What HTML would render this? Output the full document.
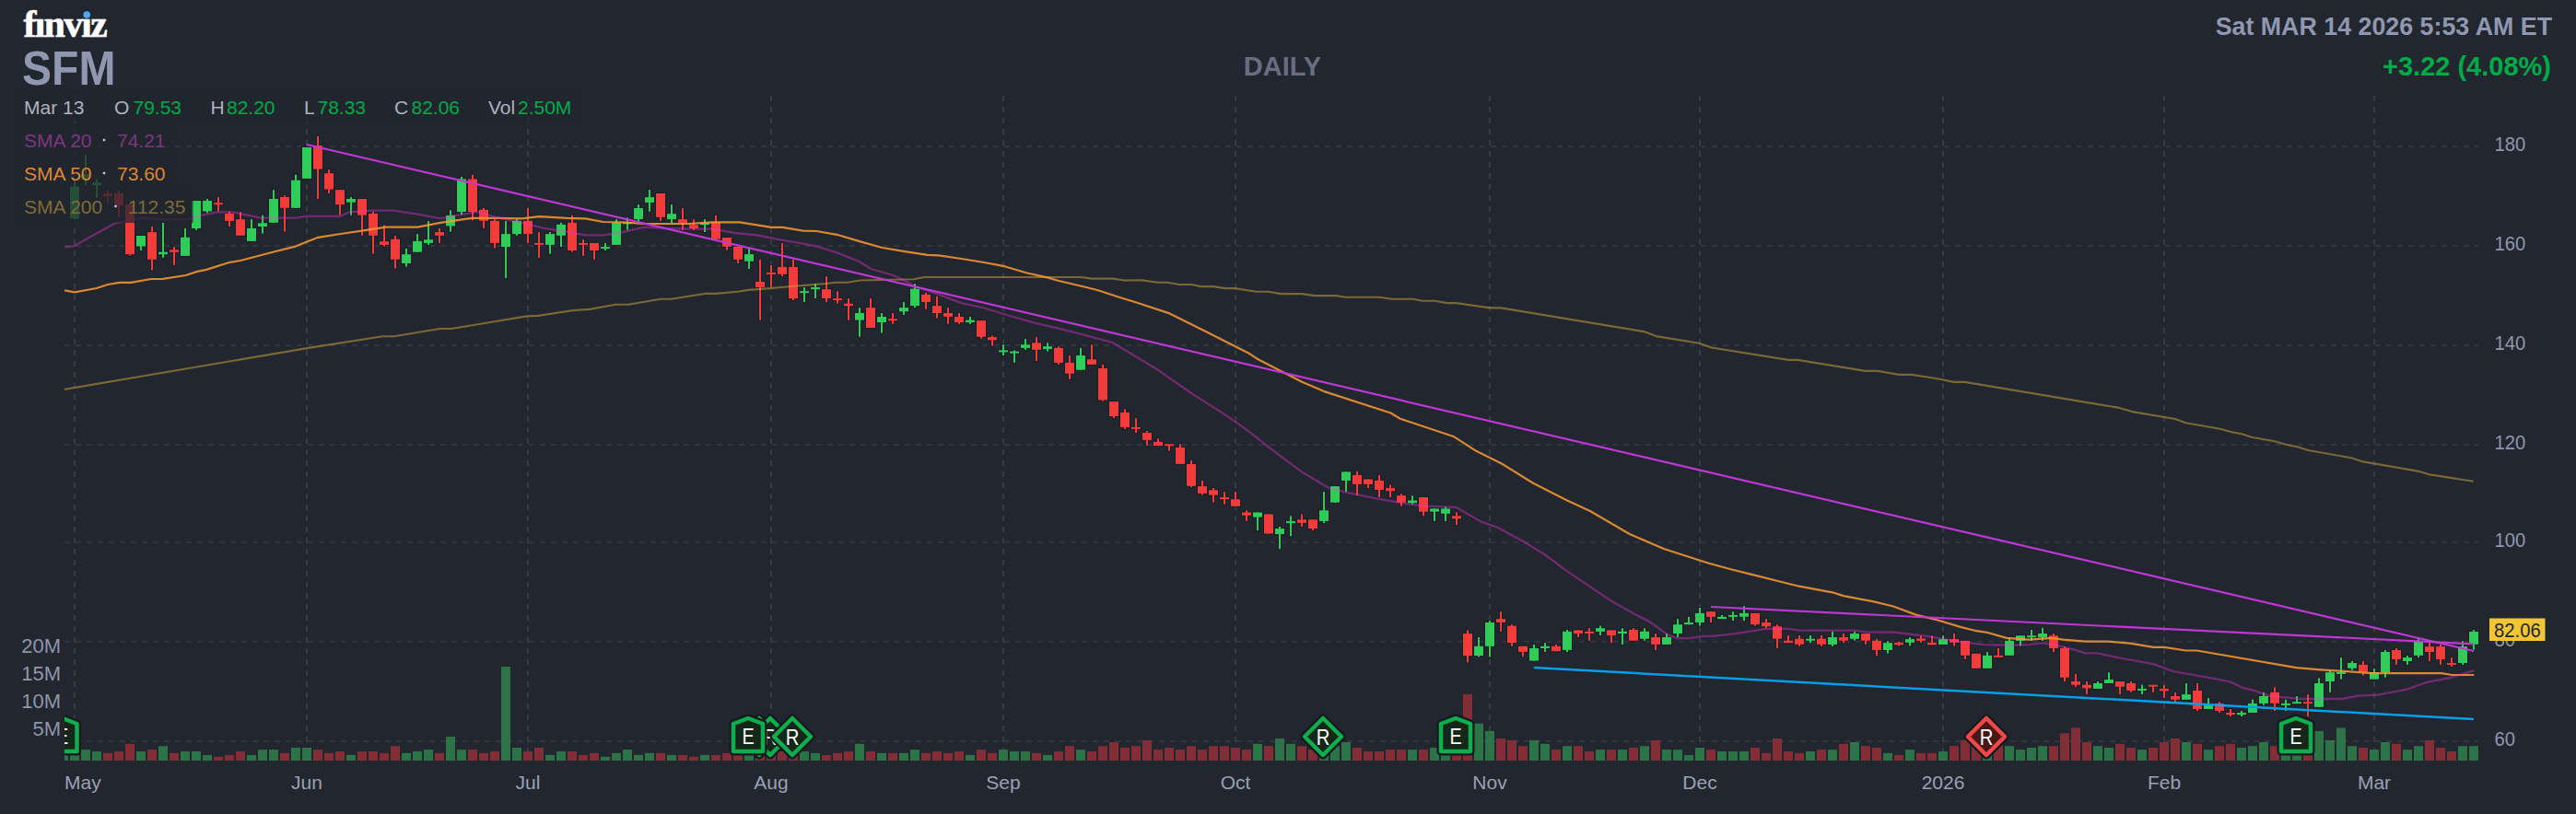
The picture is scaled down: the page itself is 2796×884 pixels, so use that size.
<!DOCTYPE html><html><head><meta charset="utf-8"><style>html,body{margin:0;padding:0;background:#22262f;width:2796px;height:884px;overflow:hidden;position:relative}</style></head><body><svg width="2796" height="884" viewBox="0 0 2796 884" style="position:absolute;left:0;top:0">
<rect width="2796" height="884" fill="#22262f"/>
<defs><clipPath id="cp"><rect x="70" y="100" width="2620" height="730"/></clipPath></defs>
<line x1="81" y1="104" x2="81" y2="826" stroke="#363b46" stroke-width="2" stroke-dasharray="6 6"/>
<line x1="333" y1="104" x2="333" y2="826" stroke="#363b46" stroke-width="2" stroke-dasharray="6 6"/>
<line x1="573" y1="104" x2="573" y2="826" stroke="#363b46" stroke-width="2" stroke-dasharray="6 6"/>
<line x1="837" y1="104" x2="837" y2="826" stroke="#363b46" stroke-width="2" stroke-dasharray="6 6"/>
<line x1="1089" y1="104" x2="1089" y2="826" stroke="#363b46" stroke-width="2" stroke-dasharray="6 6"/>
<line x1="1341" y1="104" x2="1341" y2="826" stroke="#363b46" stroke-width="2" stroke-dasharray="6 6"/>
<line x1="1617" y1="104" x2="1617" y2="826" stroke="#363b46" stroke-width="2" stroke-dasharray="6 6"/>
<line x1="1845" y1="104" x2="1845" y2="826" stroke="#363b46" stroke-width="2" stroke-dasharray="6 6"/>
<line x1="2109" y1="104" x2="2109" y2="826" stroke="#363b46" stroke-width="2" stroke-dasharray="6 6"/>
<line x1="2349" y1="104" x2="2349" y2="826" stroke="#363b46" stroke-width="2" stroke-dasharray="6 6"/>
<line x1="2577" y1="104" x2="2577" y2="826" stroke="#363b46" stroke-width="2" stroke-dasharray="6 6"/>
<line x1="70" y1="159.0" x2="2690" y2="159.0" stroke="#30353f" stroke-width="2" stroke-dasharray="6 6"/>
<line x1="70" y1="267.0" x2="2690" y2="267.0" stroke="#30353f" stroke-width="2" stroke-dasharray="6 6"/>
<line x1="70" y1="375.0" x2="2690" y2="375.0" stroke="#30353f" stroke-width="2" stroke-dasharray="6 6"/>
<line x1="70" y1="483.0" x2="2690" y2="483.0" stroke="#30353f" stroke-width="2" stroke-dasharray="6 6"/>
<line x1="70" y1="588.8" x2="2690" y2="588.8" stroke="#30353f" stroke-width="2" stroke-dasharray="6 6"/>
<line x1="70" y1="696.8" x2="2690" y2="696.8" stroke="#30353f" stroke-width="2" stroke-dasharray="6 6"/>
<line x1="70" y1="805.0" x2="2690" y2="805.0" stroke="#30353f" stroke-width="2" stroke-dasharray="6 6"/>
<g clip-path="url(#cp)">
<g opacity="0.9">
<rect x="64" y="819.5" width="10" height="6.5" fill="#2e7d4b"/>
<rect x="76" y="819.5" width="10" height="6.5" fill="#2e7d4b"/>
<rect x="88" y="814.1" width="10" height="11.9" fill="#2e7d4b"/>
<rect x="100" y="816.0" width="10" height="10.0" fill="#2e7d4b"/>
<rect x="112" y="817.8" width="10" height="8.2" fill="#8e2f37"/>
<rect x="124" y="816.0" width="10" height="10.0" fill="#8e2f37"/>
<rect x="136" y="807.8" width="10" height="18.2" fill="#8e2f37"/>
<rect x="148" y="816.0" width="10" height="10.0" fill="#2e7d4b"/>
<rect x="160" y="814.1" width="10" height="11.9" fill="#8e2f37"/>
<rect x="172" y="810.2" width="10" height="15.8" fill="#2e7d4b"/>
<rect x="184" y="817.8" width="10" height="8.2" fill="#8e2f37"/>
<rect x="196" y="816.0" width="10" height="10.0" fill="#2e7d4b"/>
<rect x="208" y="816.0" width="10" height="10.0" fill="#2e7d4b"/>
<rect x="220" y="819.9" width="10" height="6.1" fill="#2e7d4b"/>
<rect x="232" y="821.8" width="10" height="4.2" fill="#8e2f37"/>
<rect x="244" y="819.9" width="10" height="6.1" fill="#8e2f37"/>
<rect x="256" y="816.0" width="10" height="10.0" fill="#8e2f37"/>
<rect x="268" y="819.9" width="10" height="6.1" fill="#2e7d4b"/>
<rect x="280" y="814.1" width="10" height="11.9" fill="#2e7d4b"/>
<rect x="292" y="814.1" width="10" height="11.9" fill="#2e7d4b"/>
<rect x="304" y="817.8" width="10" height="8.2" fill="#8e2f37"/>
<rect x="316" y="812.0" width="10" height="14.0" fill="#2e7d4b"/>
<rect x="328" y="812.0" width="10" height="14.0" fill="#2e7d4b"/>
<rect x="340" y="814.1" width="10" height="11.9" fill="#8e2f37"/>
<rect x="352" y="817.8" width="10" height="8.2" fill="#8e2f37"/>
<rect x="364" y="816.0" width="10" height="10.0" fill="#8e2f37"/>
<rect x="376" y="819.9" width="10" height="6.1" fill="#2e7d4b"/>
<rect x="388" y="816.0" width="10" height="10.0" fill="#8e2f37"/>
<rect x="400" y="816.0" width="10" height="10.0" fill="#8e2f37"/>
<rect x="412" y="817.8" width="10" height="8.2" fill="#8e2f37"/>
<rect x="424" y="810.2" width="10" height="15.8" fill="#8e2f37"/>
<rect x="436" y="817.8" width="10" height="8.2" fill="#2e7d4b"/>
<rect x="448" y="816.0" width="10" height="10.0" fill="#2e7d4b"/>
<rect x="460" y="814.1" width="10" height="11.9" fill="#2e7d4b"/>
<rect x="472" y="817.8" width="10" height="8.2" fill="#8e2f37"/>
<rect x="484" y="800.1" width="10" height="25.9" fill="#2e7d4b"/>
<rect x="496" y="814.1" width="10" height="11.9" fill="#2e7d4b"/>
<rect x="508" y="814.1" width="10" height="11.9" fill="#8e2f37"/>
<rect x="520" y="817.8" width="10" height="8.2" fill="#8e2f37"/>
<rect x="532" y="816.0" width="10" height="10.0" fill="#8e2f37"/>
<rect x="544" y="724.0" width="10" height="102.0" fill="#2e7d4b"/>
<rect x="556" y="812.0" width="10" height="14.0" fill="#2e7d4b"/>
<rect x="568" y="816.0" width="10" height="10.0" fill="#8e2f37"/>
<rect x="580" y="812.0" width="10" height="14.0" fill="#8e2f37"/>
<rect x="592" y="819.9" width="10" height="6.1" fill="#2e7d4b"/>
<rect x="604" y="816.0" width="10" height="10.0" fill="#2e7d4b"/>
<rect x="616" y="816.0" width="10" height="10.0" fill="#8e2f37"/>
<rect x="628" y="819.9" width="10" height="6.1" fill="#8e2f37"/>
<rect x="640" y="817.8" width="10" height="8.2" fill="#8e2f37"/>
<rect x="652" y="821.8" width="10" height="4.2" fill="#2e7d4b"/>
<rect x="664" y="817.8" width="10" height="8.2" fill="#2e7d4b"/>
<rect x="676" y="814.1" width="10" height="11.9" fill="#2e7d4b"/>
<rect x="688" y="819.9" width="10" height="6.1" fill="#2e7d4b"/>
<rect x="700" y="817.8" width="10" height="8.2" fill="#2e7d4b"/>
<rect x="712" y="817.8" width="10" height="8.2" fill="#8e2f37"/>
<rect x="724" y="819.9" width="10" height="6.1" fill="#2e7d4b"/>
<rect x="736" y="819.9" width="10" height="6.1" fill="#8e2f37"/>
<rect x="748" y="821.8" width="10" height="4.2" fill="#8e2f37"/>
<rect x="760" y="819.9" width="10" height="6.1" fill="#2e7d4b"/>
<rect x="772" y="819.9" width="10" height="6.1" fill="#8e2f37"/>
<rect x="784" y="817.8" width="10" height="8.2" fill="#8e2f37"/>
<rect x="796" y="819.9" width="10" height="6.1" fill="#8e2f37"/>
<rect x="808" y="819.9" width="10" height="6.1" fill="#2e7d4b"/>
<rect x="820" y="817.8" width="10" height="8.2" fill="#8e2f37"/>
<rect x="832" y="816.0" width="10" height="10.0" fill="#8e2f37"/>
<rect x="844" y="816.0" width="10" height="10.0" fill="#8e2f37"/>
<rect x="856" y="817.2" width="10" height="8.8" fill="#8e2f37"/>
<rect x="868" y="816.0" width="10" height="10.0" fill="#2e7d4b"/>
<rect x="880" y="817.8" width="10" height="8.2" fill="#2e7d4b"/>
<rect x="892" y="819.9" width="10" height="6.1" fill="#8e2f37"/>
<rect x="904" y="817.8" width="10" height="8.2" fill="#8e2f37"/>
<rect x="916" y="816.0" width="10" height="10.0" fill="#8e2f37"/>
<rect x="928" y="807.8" width="10" height="18.2" fill="#2e7d4b"/>
<rect x="940" y="816.0" width="10" height="10.0" fill="#8e2f37"/>
<rect x="952" y="817.8" width="10" height="8.2" fill="#2e7d4b"/>
<rect x="964" y="817.8" width="10" height="8.2" fill="#8e2f37"/>
<rect x="976" y="817.8" width="10" height="8.2" fill="#2e7d4b"/>
<rect x="988" y="814.1" width="10" height="11.9" fill="#2e7d4b"/>
<rect x="1000" y="817.8" width="10" height="8.2" fill="#8e2f37"/>
<rect x="1012" y="816.0" width="10" height="10.0" fill="#8e2f37"/>
<rect x="1024" y="817.8" width="10" height="8.2" fill="#8e2f37"/>
<rect x="1036" y="816.0" width="10" height="10.0" fill="#8e2f37"/>
<rect x="1048" y="819.9" width="10" height="6.1" fill="#2e7d4b"/>
<rect x="1060" y="814.1" width="10" height="11.9" fill="#8e2f37"/>
<rect x="1072" y="817.8" width="10" height="8.2" fill="#8e2f37"/>
<rect x="1084" y="814.1" width="10" height="11.9" fill="#2e7d4b"/>
<rect x="1096" y="816.0" width="10" height="10.0" fill="#2e7d4b"/>
<rect x="1108" y="816.0" width="10" height="10.0" fill="#2e7d4b"/>
<rect x="1120" y="817.8" width="10" height="8.2" fill="#8e2f37"/>
<rect x="1132" y="819.9" width="10" height="6.1" fill="#2e7d4b"/>
<rect x="1144" y="816.0" width="10" height="10.0" fill="#8e2f37"/>
<rect x="1156" y="810.2" width="10" height="15.8" fill="#8e2f37"/>
<rect x="1168" y="814.1" width="10" height="11.9" fill="#2e7d4b"/>
<rect x="1180" y="816.0" width="10" height="10.0" fill="#8e2f37"/>
<rect x="1192" y="810.2" width="10" height="15.8" fill="#8e2f37"/>
<rect x="1204" y="806.0" width="10" height="20.0" fill="#8e2f37"/>
<rect x="1216" y="812.0" width="10" height="14.0" fill="#8e2f37"/>
<rect x="1228" y="810.2" width="10" height="15.8" fill="#8e2f37"/>
<rect x="1240" y="803.9" width="10" height="22.1" fill="#8e2f37"/>
<rect x="1252" y="814.1" width="10" height="11.9" fill="#8e2f37"/>
<rect x="1264" y="812.0" width="10" height="14.0" fill="#8e2f37"/>
<rect x="1276" y="814.1" width="10" height="11.9" fill="#8e2f37"/>
<rect x="1288" y="810.2" width="10" height="15.8" fill="#8e2f37"/>
<rect x="1300" y="814.1" width="10" height="11.9" fill="#8e2f37"/>
<rect x="1312" y="810.2" width="10" height="15.8" fill="#8e2f37"/>
<rect x="1324" y="810.2" width="10" height="15.8" fill="#8e2f37"/>
<rect x="1336" y="812.0" width="10" height="14.0" fill="#8e2f37"/>
<rect x="1348" y="814.1" width="10" height="11.9" fill="#8e2f37"/>
<rect x="1360" y="807.8" width="10" height="18.2" fill="#2e7d4b"/>
<rect x="1372" y="810.2" width="10" height="15.8" fill="#8e2f37"/>
<rect x="1384" y="802.0" width="10" height="24.0" fill="#2e7d4b"/>
<rect x="1396" y="807.8" width="10" height="18.2" fill="#2e7d4b"/>
<rect x="1408" y="810.2" width="10" height="15.8" fill="#8e2f37"/>
<rect x="1420" y="814.1" width="10" height="11.9" fill="#8e2f37"/>
<rect x="1432" y="810.2" width="10" height="15.8" fill="#2e7d4b"/>
<rect x="1444" y="810.2" width="10" height="15.8" fill="#2e7d4b"/>
<rect x="1456" y="806.0" width="10" height="20.0" fill="#2e7d4b"/>
<rect x="1468" y="812.0" width="10" height="14.0" fill="#8e2f37"/>
<rect x="1480" y="816.0" width="10" height="10.0" fill="#8e2f37"/>
<rect x="1492" y="816.0" width="10" height="10.0" fill="#8e2f37"/>
<rect x="1504" y="814.1" width="10" height="11.9" fill="#8e2f37"/>
<rect x="1516" y="814.1" width="10" height="11.9" fill="#8e2f37"/>
<rect x="1528" y="814.1" width="10" height="11.9" fill="#2e7d4b"/>
<rect x="1540" y="814.1" width="10" height="11.9" fill="#8e2f37"/>
<rect x="1552" y="812.0" width="10" height="14.0" fill="#2e7d4b"/>
<rect x="1564" y="814.8" width="10" height="11.2" fill="#2e7d4b"/>
<rect x="1576" y="816.0" width="10" height="10.0" fill="#8e2f37"/>
<rect x="1588" y="753.8" width="10" height="72.2" fill="#8e2f37"/>
<rect x="1600" y="785.7" width="10" height="40.3" fill="#2e7d4b"/>
<rect x="1612" y="793.9" width="10" height="32.1" fill="#2e7d4b"/>
<rect x="1624" y="802.0" width="10" height="24.0" fill="#8e2f37"/>
<rect x="1636" y="803.9" width="10" height="22.1" fill="#8e2f37"/>
<rect x="1648" y="810.2" width="10" height="15.8" fill="#8e2f37"/>
<rect x="1660" y="803.9" width="10" height="22.1" fill="#2e7d4b"/>
<rect x="1672" y="807.8" width="10" height="18.2" fill="#2e7d4b"/>
<rect x="1684" y="814.1" width="10" height="11.9" fill="#8e2f37"/>
<rect x="1696" y="810.2" width="10" height="15.8" fill="#2e7d4b"/>
<rect x="1708" y="810.2" width="10" height="15.8" fill="#8e2f37"/>
<rect x="1720" y="816.0" width="10" height="10.0" fill="#8e2f37"/>
<rect x="1732" y="814.1" width="10" height="11.9" fill="#2e7d4b"/>
<rect x="1744" y="814.1" width="10" height="11.9" fill="#8e2f37"/>
<rect x="1756" y="814.1" width="10" height="11.9" fill="#2e7d4b"/>
<rect x="1768" y="812.0" width="10" height="14.0" fill="#8e2f37"/>
<rect x="1780" y="810.2" width="10" height="15.8" fill="#2e7d4b"/>
<rect x="1792" y="803.9" width="10" height="22.1" fill="#8e2f37"/>
<rect x="1804" y="814.1" width="10" height="11.9" fill="#2e7d4b"/>
<rect x="1816" y="814.1" width="10" height="11.9" fill="#2e7d4b"/>
<rect x="1828" y="819.9" width="10" height="6.1" fill="#2e7d4b"/>
<rect x="1840" y="812.0" width="10" height="14.0" fill="#2e7d4b"/>
<rect x="1852" y="814.1" width="10" height="11.9" fill="#8e2f37"/>
<rect x="1864" y="816.0" width="10" height="10.0" fill="#2e7d4b"/>
<rect x="1876" y="816.0" width="10" height="10.0" fill="#2e7d4b"/>
<rect x="1888" y="816.0" width="10" height="10.0" fill="#2e7d4b"/>
<rect x="1900" y="812.0" width="10" height="14.0" fill="#8e2f37"/>
<rect x="1912" y="817.8" width="10" height="8.2" fill="#8e2f37"/>
<rect x="1924" y="802.0" width="10" height="24.0" fill="#8e2f37"/>
<rect x="1936" y="816.0" width="10" height="10.0" fill="#8e2f37"/>
<rect x="1948" y="817.8" width="10" height="8.2" fill="#8e2f37"/>
<rect x="1960" y="816.0" width="10" height="10.0" fill="#2e7d4b"/>
<rect x="1972" y="814.1" width="10" height="11.9" fill="#8e2f37"/>
<rect x="1984" y="814.1" width="10" height="11.9" fill="#2e7d4b"/>
<rect x="1996" y="807.8" width="10" height="18.2" fill="#8e2f37"/>
<rect x="2008" y="806.0" width="10" height="20.0" fill="#2e7d4b"/>
<rect x="2020" y="810.2" width="10" height="15.8" fill="#8e2f37"/>
<rect x="2032" y="812.0" width="10" height="14.0" fill="#8e2f37"/>
<rect x="2044" y="817.8" width="10" height="8.2" fill="#2e7d4b"/>
<rect x="2056" y="819.9" width="10" height="6.1" fill="#8e2f37"/>
<rect x="2068" y="814.1" width="10" height="11.9" fill="#2e7d4b"/>
<rect x="2080" y="817.8" width="10" height="8.2" fill="#8e2f37"/>
<rect x="2092" y="817.8" width="10" height="8.2" fill="#8e2f37"/>
<rect x="2104" y="816.0" width="10" height="10.0" fill="#2e7d4b"/>
<rect x="2116" y="810.2" width="10" height="15.8" fill="#8e2f37"/>
<rect x="2128" y="803.9" width="10" height="22.1" fill="#8e2f37"/>
<rect x="2140" y="810.2" width="10" height="15.8" fill="#8e2f37"/>
<rect x="2152" y="810.2" width="10" height="15.8" fill="#2e7d4b"/>
<rect x="2164" y="810.2" width="10" height="15.8" fill="#8e2f37"/>
<rect x="2176" y="810.2" width="10" height="15.8" fill="#2e7d4b"/>
<rect x="2188" y="814.1" width="10" height="11.9" fill="#2e7d4b"/>
<rect x="2200" y="812.0" width="10" height="14.0" fill="#2e7d4b"/>
<rect x="2212" y="810.2" width="10" height="15.8" fill="#2e7d4b"/>
<rect x="2224" y="810.2" width="10" height="15.8" fill="#8e2f37"/>
<rect x="2236" y="796.2" width="10" height="29.8" fill="#8e2f37"/>
<rect x="2248" y="790.4" width="10" height="35.6" fill="#8e2f37"/>
<rect x="2260" y="806.0" width="10" height="20.0" fill="#8e2f37"/>
<rect x="2272" y="810.2" width="10" height="15.8" fill="#2e7d4b"/>
<rect x="2284" y="812.0" width="10" height="14.0" fill="#2e7d4b"/>
<rect x="2296" y="807.8" width="10" height="18.2" fill="#8e2f37"/>
<rect x="2308" y="812.0" width="10" height="14.0" fill="#8e2f37"/>
<rect x="2320" y="814.1" width="10" height="11.9" fill="#2e7d4b"/>
<rect x="2332" y="812.0" width="10" height="14.0" fill="#8e2f37"/>
<rect x="2344" y="806.0" width="10" height="20.0" fill="#8e2f37"/>
<rect x="2356" y="802.0" width="10" height="24.0" fill="#8e2f37"/>
<rect x="2368" y="806.0" width="10" height="20.0" fill="#2e7d4b"/>
<rect x="2380" y="807.8" width="10" height="18.2" fill="#8e2f37"/>
<rect x="2392" y="814.1" width="10" height="11.9" fill="#2e7d4b"/>
<rect x="2404" y="810.2" width="10" height="15.8" fill="#8e2f37"/>
<rect x="2416" y="807.8" width="10" height="18.2" fill="#8e2f37"/>
<rect x="2428" y="812.0" width="10" height="14.0" fill="#2e7d4b"/>
<rect x="2440" y="810.2" width="10" height="15.8" fill="#2e7d4b"/>
<rect x="2452" y="806.0" width="10" height="20.0" fill="#2e7d4b"/>
<rect x="2464" y="810.2" width="10" height="15.8" fill="#8e2f37"/>
<rect x="2476" y="812.5" width="10" height="13.5" fill="#2e7d4b"/>
<rect x="2488" y="812.5" width="10" height="13.5" fill="#2e7d4b"/>
<rect x="2500" y="812.5" width="10" height="13.5" fill="#8e2f37"/>
<rect x="2512" y="793.9" width="10" height="32.1" fill="#2e7d4b"/>
<rect x="2524" y="803.9" width="10" height="22.1" fill="#2e7d4b"/>
<rect x="2536" y="790.4" width="10" height="35.6" fill="#2e7d4b"/>
<rect x="2548" y="810.2" width="10" height="15.8" fill="#2e7d4b"/>
<rect x="2560" y="812.0" width="10" height="14.0" fill="#8e2f37"/>
<rect x="2572" y="814.1" width="10" height="11.9" fill="#2e7d4b"/>
<rect x="2584" y="806.0" width="10" height="20.0" fill="#2e7d4b"/>
<rect x="2596" y="807.8" width="10" height="18.2" fill="#8e2f37"/>
<rect x="2608" y="814.1" width="10" height="11.9" fill="#2e7d4b"/>
<rect x="2620" y="810.2" width="10" height="15.8" fill="#2e7d4b"/>
<rect x="2632" y="803.9" width="10" height="22.1" fill="#8e2f37"/>
<rect x="2644" y="812.0" width="10" height="14.0" fill="#8e2f37"/>
<rect x="2656" y="816.0" width="10" height="10.0" fill="#8e2f37"/>
<rect x="2668" y="810.2" width="10" height="15.8" fill="#2e7d4b"/>
<rect x="2680" y="810.2" width="10" height="15.8" fill="#2e7d4b"/>
</g>
<g fill="none" stroke="#1a1d24" stroke-width="2" stroke-opacity="0.8">
<rect x="80" y="195.1" width="2" height="43.0"/><rect x="76" y="202.5" width="10" height="35.1"/>
<rect x="92" y="168.1" width="2" height="33.2"/><rect x="88" y="189.0" width="10" height="6.1"/>
<rect x="104" y="194.4" width="2" height="20.4"/><rect x="100" y="198.3" width="10" height="2.9"/>
<rect x="116" y="206.7" width="2" height="13.0"/><rect x="112" y="209.9" width="10" height="3.2"/>
<rect x="128" y="206.7" width="2" height="29.0"/><rect x="124" y="209.9" width="10" height="13.5"/>
<rect x="140" y="222.1" width="2" height="55.3"/><rect x="136" y="222.1" width="10" height="54.1"/>
<rect x="152" y="256.0" width="2" height="16.0"/><rect x="148" y="256.0" width="10" height="11.5"/>
<rect x="164" y="246.0" width="2" height="47.4"/><rect x="160" y="252.1" width="10" height="29.7"/>
<rect x="176" y="241.8" width="2" height="38.1"/><rect x="172" y="273.7" width="10" height="2.5"/>
<rect x="188" y="268.1" width="2" height="19.7"/><rect x="184" y="271.3" width="10" height="2.5"/>
<rect x="200" y="247.9" width="2" height="30.0"/><rect x="196" y="257.8" width="10" height="20.1"/>
<rect x="212" y="218.0" width="2" height="31.9"/><rect x="208" y="218.0" width="10" height="30.0"/>
<rect x="224" y="216.0" width="2" height="15.2"/><rect x="220" y="218.0" width="10" height="11.5"/>
<rect x="236" y="214.0" width="2" height="15.5"/><rect x="232" y="220.2" width="10" height="2.0"/>
<rect x="248" y="229.5" width="2" height="16.5"/><rect x="244" y="232.0" width="10" height="7.9"/>
<rect x="260" y="230.0" width="2" height="25.8"/><rect x="256" y="238.1" width="10" height="17.7"/>
<rect x="272" y="238.1" width="2" height="23.8"/><rect x="268" y="247.9" width="10" height="14.0"/>
<rect x="284" y="233.7" width="2" height="19.9"/><rect x="280" y="242.3" width="10" height="3.7"/>
<rect x="296" y="206.2" width="2" height="35.6"/><rect x="292" y="216.0" width="10" height="25.8"/>
<rect x="308" y="212.3" width="2" height="39.3"/><rect x="304" y="214.0" width="10" height="11.8"/>
<rect x="320" y="189.7" width="2" height="36.1"/><rect x="316" y="195.8" width="10" height="30.0"/>
<rect x="332" y="160.0" width="2" height="33.9"/><rect x="328" y="160.0" width="10" height="33.9"/>
<rect x="344" y="147.9" width="2" height="68.1"/><rect x="340" y="158.0" width="10" height="25.6"/>
<rect x="356" y="184.1" width="2" height="25.8"/><rect x="352" y="188.2" width="10" height="17.4"/>
<rect x="368" y="206.2" width="2" height="27.5"/><rect x="364" y="206.2" width="10" height="16.0"/>
<rect x="380" y="214.0" width="2" height="19.7"/><rect x="376" y="216.0" width="10" height="3.7"/>
<rect x="392" y="216.0" width="2" height="39.8"/><rect x="388" y="216.0" width="10" height="17.7"/>
<rect x="404" y="230.0" width="2" height="45.7"/><rect x="400" y="232.0" width="10" height="23.8"/>
<rect x="416" y="244.3" width="2" height="23.3"/><rect x="412" y="262.2" width="10" height="3.7"/>
<rect x="428" y="256.0" width="2" height="35.6"/><rect x="424" y="259.7" width="10" height="22.1"/>
<rect x="440" y="270.0" width="2" height="19.7"/><rect x="436" y="276.2" width="10" height="9.8"/>
<rect x="452" y="254.1" width="2" height="19.7"/><rect x="448" y="261.9" width="10" height="11.8"/>
<rect x="464" y="240.1" width="2" height="25.8"/><rect x="460" y="260.2" width="10" height="3.7"/>
<rect x="476" y="247.9" width="2" height="16.0"/><rect x="472" y="252.1" width="10" height="3.7"/>
<rect x="488" y="228.3" width="2" height="23.3"/><rect x="484" y="233.9" width="10" height="11.5"/>
<rect x="500" y="191.9" width="2" height="41.3"/><rect x="496" y="194.4" width="10" height="35.6"/>
<rect x="512" y="189.7" width="2" height="49.6"/><rect x="508" y="194.4" width="10" height="35.6"/>
<rect x="524" y="225.8" width="2" height="22.1"/><rect x="520" y="227.8" width="10" height="12.0"/>
<rect x="536" y="238.1" width="2" height="31.4"/><rect x="532" y="239.8" width="10" height="24.1"/>
<rect x="548" y="240.1" width="2" height="61.9"/><rect x="544" y="254.1" width="10" height="14.0"/>
<rect x="560" y="238.1" width="2" height="17.7"/><rect x="556" y="239.8" width="10" height="14.3"/>
<rect x="572" y="225.8" width="2" height="38.1"/><rect x="568" y="239.8" width="10" height="14.3"/>
<rect x="584" y="252.1" width="2" height="27.8"/><rect x="580" y="263.9" width="10" height="2.0"/>
<rect x="596" y="252.1" width="2" height="23.6"/><rect x="592" y="254.1" width="10" height="11.8"/>
<rect x="608" y="241.8" width="2" height="26.3"/><rect x="604" y="243.8" width="10" height="12.0"/>
<rect x="620" y="233.7" width="2" height="40.0"/><rect x="616" y="241.8" width="10" height="30.2"/>
<rect x="632" y="260.2" width="2" height="17.7"/><rect x="628" y="263.9" width="10" height="2.0"/>
<rect x="644" y="263.9" width="2" height="17.9"/><rect x="640" y="263.9" width="10" height="8.1"/>
<rect x="656" y="263.9" width="2" height="8.1"/><rect x="652" y="268.1" width="10" height="2.0"/>
<rect x="668" y="238.1" width="2" height="27.8"/><rect x="664" y="241.8" width="10" height="24.1"/>
<rect x="680" y="236.3" width="2" height="13.5"/><rect x="676" y="241.3" width="10" height="2.0"/>
<rect x="692" y="222.1" width="2" height="19.2"/><rect x="688" y="226.0" width="10" height="12.0"/>
<rect x="704" y="206.1" width="2" height="23.6"/><rect x="700" y="214.2" width="10" height="5.7"/>
<rect x="716" y="210.0" width="2" height="30.0"/><rect x="712" y="210.0" width="10" height="25.8"/>
<rect x="728" y="222.1" width="2" height="19.9"/><rect x="724" y="232.2" width="10" height="5.9"/>
<rect x="740" y="226.0" width="2" height="23.8"/><rect x="736" y="238.1" width="10" height="3.9"/>
<rect x="752" y="238.1" width="2" height="11.8"/><rect x="748" y="244.2" width="10" height="3.9"/>
<rect x="764" y="238.1" width="2" height="13.8"/><rect x="760" y="242.0" width="10" height="2.2"/>
<rect x="776" y="233.9" width="2" height="25.8"/><rect x="772" y="241.3" width="10" height="18.4"/>
<rect x="788" y="258.0" width="2" height="13.5"/><rect x="784" y="258.0" width="10" height="9.8"/>
<rect x="800" y="267.8" width="2" height="18.2"/><rect x="796" y="267.8" width="10" height="14.0"/>
<rect x="812" y="269.5" width="2" height="22.6"/><rect x="808" y="276.1" width="10" height="7.6"/>
<rect x="824" y="281.8" width="2" height="65.8"/><rect x="820" y="305.9" width="10" height="6.1"/>
<rect x="836" y="287.9" width="2" height="24.1"/><rect x="832" y="296.0" width="10" height="2.0"/>
<rect x="848" y="264.1" width="2" height="36.1"/><rect x="844" y="289.9" width="10" height="7.9"/>
<rect x="860" y="281.8" width="2" height="44.2"/><rect x="856" y="289.9" width="10" height="34.2"/>
<rect x="872" y="312.0" width="2" height="16.0"/><rect x="868" y="316.2" width="10" height="2.0"/>
<rect x="884" y="308.1" width="2" height="16.0"/><rect x="880" y="312.0" width="10" height="2.2"/>
<rect x="896" y="300.2" width="2" height="27.8"/><rect x="892" y="314.2" width="10" height="9.8"/>
<rect x="908" y="316.2" width="2" height="13.5"/><rect x="904" y="324.1" width="10" height="2.0"/>
<rect x="920" y="324.1" width="2" height="23.6"/><rect x="916" y="329.7" width="10" height="2.5"/>
<rect x="932" y="334.1" width="2" height="31.7"/><rect x="928" y="340.0" width="10" height="7.6"/>
<rect x="944" y="324.1" width="2" height="31.9"/><rect x="940" y="334.1" width="10" height="21.9"/>
<rect x="956" y="340.0" width="2" height="21.6"/><rect x="952" y="344.0" width="10" height="6.1"/>
<rect x="968" y="340.0" width="2" height="11.8"/><rect x="964" y="346.2" width="10" height="2.0"/>
<rect x="980" y="328.0" width="2" height="14.0"/><rect x="976" y="334.1" width="10" height="4.2"/>
<rect x="992" y="308.1" width="2" height="26.0"/><rect x="988" y="313.7" width="10" height="18.4"/>
<rect x="1004" y="317.9" width="2" height="17.9"/><rect x="1000" y="319.9" width="10" height="8.1"/>
<rect x="1016" y="321.8" width="2" height="23.8"/><rect x="1012" y="332.2" width="10" height="7.9"/>
<rect x="1028" y="334.1" width="2" height="17.7"/><rect x="1024" y="340.0" width="10" height="3.9"/>
<rect x="1040" y="340.0" width="2" height="11.8"/><rect x="1036" y="344.0" width="10" height="6.1"/>
<rect x="1052" y="344.0" width="2" height="7.9"/><rect x="1048" y="347.6" width="10" height="2.5"/>
<rect x="1064" y="348.1" width="2" height="19.7"/><rect x="1060" y="348.1" width="10" height="17.7"/>
<rect x="1076" y="364.4" width="2" height="11.1"/><rect x="1072" y="366.1" width="10" height="3.2"/>
<rect x="1088" y="374.2" width="2" height="11.8"/><rect x="1084" y="380.4" width="10" height="2.0"/>
<rect x="1100" y="380.4" width="2" height="13.5"/><rect x="1096" y="381.6" width="10" height="2.0"/>
<rect x="1112" y="368.1" width="2" height="11.8"/><rect x="1108" y="374.2" width="10" height="3.7"/>
<rect x="1124" y="366.1" width="2" height="25.8"/><rect x="1120" y="372.3" width="10" height="7.6"/>
<rect x="1136" y="372.3" width="2" height="9.3"/><rect x="1132" y="376.2" width="10" height="2.9"/>
<rect x="1148" y="376.2" width="2" height="19.7"/><rect x="1144" y="377.9" width="10" height="16.0"/>
<rect x="1160" y="386.0" width="2" height="25.8"/><rect x="1156" y="393.9" width="10" height="11.8"/>
<rect x="1172" y="377.9" width="2" height="23.8"/><rect x="1168" y="386.0" width="10" height="15.7"/>
<rect x="1184" y="374.2" width="2" height="21.6"/><rect x="1180" y="390.2" width="10" height="5.7"/>
<rect x="1196" y="395.8" width="2" height="39.8"/><rect x="1192" y="400.0" width="10" height="34.4"/>
<rect x="1208" y="436.1" width="2" height="17.9"/><rect x="1204" y="436.1" width="10" height="16.0"/>
<rect x="1220" y="444.3" width="2" height="21.6"/><rect x="1216" y="447.9" width="10" height="16.0"/>
<rect x="1232" y="454.1" width="2" height="16.0"/><rect x="1228" y="463.9" width="10" height="2.0"/>
<rect x="1244" y="468.1" width="2" height="16.0"/><rect x="1240" y="470.0" width="10" height="7.9"/>
<rect x="1256" y="476.2" width="2" height="7.9"/><rect x="1252" y="479.9" width="10" height="4.2"/>
<rect x="1268" y="482.3" width="2" height="7.4"/><rect x="1264" y="482.3" width="10" height="2.0"/>
<rect x="1280" y="482.3" width="2" height="21.6"/><rect x="1276" y="486.0" width="10" height="17.9"/>
<rect x="1292" y="500.0" width="2" height="29.0"/><rect x="1288" y="504.0" width="10" height="23.8"/>
<rect x="1304" y="521.9" width="2" height="15.7"/><rect x="1300" y="528.1" width="10" height="7.8"/>
<rect x="1316" y="530.0" width="2" height="15.7"/><rect x="1312" y="532.2" width="10" height="5.4"/>
<rect x="1328" y="534.1" width="2" height="13.5"/><rect x="1324" y="540.0" width="10" height="2.2"/>
<rect x="1340" y="534.1" width="2" height="15.7"/><rect x="1336" y="542.2" width="10" height="7.6"/>
<rect x="1352" y="554.3" width="2" height="11.6"/><rect x="1348" y="556.5" width="10" height="3.2"/>
<rect x="1364" y="556.5" width="2" height="19.5"/><rect x="1360" y="556.5" width="10" height="5.1"/>
<rect x="1376" y="558.4" width="2" height="21.1"/><rect x="1372" y="558.4" width="10" height="21.1"/>
<rect x="1388" y="571.9" width="2" height="24.3"/><rect x="1384" y="574.1" width="10" height="5.9"/>
<rect x="1400" y="560.3" width="2" height="21.9"/><rect x="1396" y="565.9" width="10" height="2.2"/>
<rect x="1412" y="558.4" width="2" height="13.5"/><rect x="1408" y="564.3" width="10" height="3.5"/>
<rect x="1424" y="564.3" width="2" height="11.6"/><rect x="1420" y="564.3" width="10" height="9.7"/>
<rect x="1436" y="534.1" width="2" height="33.8"/><rect x="1432" y="554.3" width="10" height="11.6"/>
<rect x="1448" y="528.1" width="2" height="17.6"/><rect x="1444" y="528.1" width="10" height="17.6"/>
<rect x="1460" y="512.4" width="2" height="21.6"/><rect x="1456" y="512.4" width="10" height="9.5"/>
<rect x="1472" y="511.9" width="2" height="26.2"/><rect x="1468" y="515.9" width="10" height="10.0"/>
<rect x="1484" y="520.5" width="2" height="9.5"/><rect x="1480" y="520.5" width="10" height="5.4"/>
<rect x="1496" y="515.9" width="2" height="24.1"/><rect x="1492" y="521.9" width="10" height="10.0"/>
<rect x="1508" y="526.5" width="2" height="13.5"/><rect x="1504" y="530.0" width="10" height="3.2"/>
<rect x="1520" y="536.2" width="2" height="13.5"/><rect x="1516" y="538.1" width="10" height="7.6"/>
<rect x="1532" y="538.1" width="2" height="9.5"/><rect x="1528" y="543.5" width="10" height="2.7"/>
<rect x="1544" y="540.0" width="2" height="20.3"/><rect x="1540" y="540.0" width="10" height="15.7"/>
<rect x="1556" y="552.4" width="2" height="13.5"/><rect x="1552" y="552.4" width="10" height="3.2"/>
<rect x="1568" y="550.3" width="2" height="15.7"/><rect x="1564" y="552.4" width="10" height="5.4"/>
<rect x="1580" y="556.2" width="2" height="13.8"/><rect x="1576" y="560.3" width="10" height="3.0"/>
<rect x="1592" y="684.4" width="2" height="35.1"/><rect x="1588" y="688.1" width="10" height="24.1"/>
<rect x="1604" y="692.0" width="2" height="21.4"/><rect x="1600" y="701.8" width="10" height="10.3"/>
<rect x="1616" y="674.1" width="2" height="39.3"/><rect x="1612" y="676.0" width="10" height="25.8"/>
<rect x="1628" y="664.2" width="2" height="21.6"/><rect x="1624" y="672.1" width="10" height="3.9"/>
<rect x="1640" y="678.2" width="2" height="23.6"/><rect x="1636" y="679.7" width="10" height="18.4"/>
<rect x="1652" y="701.8" width="2" height="11.5"/><rect x="1648" y="701.8" width="10" height="6.1"/>
<rect x="1664" y="699.9" width="2" height="17.7"/><rect x="1660" y="704.0" width="10" height="13.5"/>
<rect x="1676" y="698.1" width="2" height="9.8"/><rect x="1672" y="701.8" width="10" height="2.2"/>
<rect x="1688" y="699.9" width="2" height="7.4"/><rect x="1684" y="701.8" width="10" height="5.4"/>
<rect x="1700" y="683.9" width="2" height="24.1"/><rect x="1696" y="685.8" width="10" height="20.1"/>
<rect x="1712" y="684.4" width="2" height="7.6"/><rect x="1708" y="684.4" width="10" height="3.7"/>
<rect x="1724" y="682.2" width="2" height="13.5"/><rect x="1720" y="685.8" width="10" height="2.2"/>
<rect x="1736" y="679.7" width="2" height="10.3"/><rect x="1732" y="682.2" width="10" height="3.7"/>
<rect x="1748" y="684.4" width="2" height="13.8"/><rect x="1744" y="684.4" width="10" height="5.7"/>
<rect x="1760" y="682.2" width="2" height="17.7"/><rect x="1756" y="685.8" width="10" height="2.2"/>
<rect x="1772" y="682.2" width="2" height="13.5"/><rect x="1768" y="683.9" width="10" height="11.8"/>
<rect x="1784" y="682.2" width="2" height="13.5"/><rect x="1780" y="685.8" width="10" height="7.9"/>
<rect x="1796" y="688.1" width="2" height="17.9"/><rect x="1792" y="692.0" width="10" height="7.9"/>
<rect x="1808" y="688.1" width="2" height="11.8"/><rect x="1804" y="692.0" width="10" height="7.9"/>
<rect x="1820" y="672.1" width="2" height="19.9"/><rect x="1816" y="678.2" width="10" height="9.8"/>
<rect x="1832" y="669.9" width="2" height="8.4"/><rect x="1828" y="676.0" width="10" height="2.2"/>
<rect x="1844" y="660.0" width="2" height="19.7"/><rect x="1840" y="665.9" width="10" height="10.1"/>
<rect x="1856" y="664.2" width="2" height="11.8"/><rect x="1852" y="664.2" width="10" height="5.7"/>
<rect x="1868" y="667.9" width="2" height="4.2"/><rect x="1864" y="669.9" width="10" height="2.2"/>
<rect x="1880" y="664.2" width="2" height="9.8"/><rect x="1876" y="667.9" width="10" height="2.0"/>
<rect x="1892" y="658.1" width="2" height="16.0"/><rect x="1888" y="665.9" width="10" height="3.9"/>
<rect x="1904" y="665.9" width="2" height="13.8"/><rect x="1900" y="665.9" width="10" height="12.3"/>
<rect x="1916" y="672.1" width="2" height="10.1"/><rect x="1912" y="676.0" width="10" height="4.2"/>
<rect x="1928" y="678.2" width="2" height="25.8"/><rect x="1924" y="680.2" width="10" height="13.5"/>
<rect x="1940" y="690.0" width="2" height="8.1"/><rect x="1936" y="695.7" width="10" height="2.5"/>
<rect x="1952" y="690.0" width="2" height="11.8"/><rect x="1948" y="693.7" width="10" height="6.1"/>
<rect x="1964" y="690.0" width="2" height="8.1"/><rect x="1960" y="693.7" width="10" height="2.0"/>
<rect x="1976" y="690.0" width="2" height="11.8"/><rect x="1972" y="693.7" width="10" height="6.1"/>
<rect x="1988" y="685.8" width="2" height="16.0"/><rect x="1984" y="692.0" width="10" height="7.9"/>
<rect x="2000" y="688.1" width="2" height="10.1"/><rect x="1996" y="692.0" width="10" height="3.7"/>
<rect x="2012" y="685.8" width="2" height="9.8"/><rect x="2008" y="688.1" width="10" height="5.7"/>
<rect x="2024" y="688.1" width="2" height="11.8"/><rect x="2020" y="688.1" width="10" height="7.6"/>
<rect x="2036" y="693.7" width="2" height="18.4"/><rect x="2032" y="695.7" width="10" height="10.3"/>
<rect x="2048" y="696.2" width="2" height="13.5"/><rect x="2044" y="698.1" width="10" height="7.9"/>
<rect x="2060" y="696.6" width="2" height="4.9"/><rect x="2056" y="697.8" width="10" height="2.5"/>
<rect x="2072" y="692.1" width="2" height="9.3"/><rect x="2068" y="694.1" width="10" height="3.7"/>
<rect x="2084" y="690.2" width="2" height="7.6"/><rect x="2080" y="693.4" width="10" height="2.5"/>
<rect x="2096" y="690.2" width="2" height="10.1"/><rect x="2092" y="697.8" width="10" height="2.5"/>
<rect x="2108" y="690.2" width="2" height="9.8"/><rect x="2104" y="694.1" width="10" height="5.9"/>
<rect x="2120" y="688.0" width="2" height="13.5"/><rect x="2116" y="694.1" width="10" height="3.7"/>
<rect x="2132" y="695.8" width="2" height="20.1"/><rect x="2128" y="695.8" width="10" height="16.0"/>
<rect x="2144" y="709.8" width="2" height="16.0"/><rect x="2140" y="709.8" width="10" height="16.0"/>
<rect x="2156" y="708.1" width="2" height="17.7"/><rect x="2152" y="711.8" width="10" height="14.0"/>
<rect x="2168" y="703.9" width="2" height="9.8"/><rect x="2164" y="711.8" width="10" height="2.0"/>
<rect x="2180" y="692.1" width="2" height="19.7"/><rect x="2176" y="695.8" width="10" height="16.0"/>
<rect x="2192" y="690.2" width="2" height="11.3"/><rect x="2188" y="690.2" width="10" height="5.7"/>
<rect x="2204" y="684.0" width="2" height="11.8"/><rect x="2200" y="690.2" width="10" height="2.0"/>
<rect x="2216" y="681.8" width="2" height="14.0"/><rect x="2212" y="688.0" width="10" height="4.2"/>
<rect x="2228" y="688.0" width="2" height="20.1"/><rect x="2224" y="690.2" width="10" height="13.8"/>
<rect x="2240" y="702.0" width="2" height="38.1"/><rect x="2236" y="703.9" width="10" height="31.9"/>
<rect x="2252" y="731.9" width="2" height="13.8"/><rect x="2248" y="740.0" width="10" height="3.7"/>
<rect x="2264" y="740.0" width="2" height="14.0"/><rect x="2260" y="743.7" width="10" height="3.7"/>
<rect x="2276" y="740.0" width="2" height="7.9"/><rect x="2272" y="742.0" width="10" height="5.9"/>
<rect x="2288" y="730.2" width="2" height="11.8"/><rect x="2284" y="738.1" width="10" height="3.9"/>
<rect x="2300" y="740.0" width="2" height="14.0"/><rect x="2296" y="740.0" width="10" height="5.7"/>
<rect x="2312" y="740.0" width="2" height="11.8"/><rect x="2308" y="742.0" width="10" height="7.9"/>
<rect x="2324" y="743.7" width="2" height="10.3"/><rect x="2320" y="747.9" width="10" height="2.0"/>
<rect x="2336" y="743.7" width="2" height="8.1"/><rect x="2332" y="743.7" width="10" height="2.0"/>
<rect x="2348" y="743.7" width="2" height="14.3"/><rect x="2344" y="747.9" width="10" height="2.5"/>
<rect x="2360" y="751.8" width="2" height="10.3"/><rect x="2356" y="756.0" width="10" height="3.7"/>
<rect x="2372" y="742.0" width="2" height="17.7"/><rect x="2368" y="754.1" width="10" height="5.7"/>
<rect x="2384" y="742.0" width="2" height="30.0"/><rect x="2380" y="749.9" width="10" height="20.1"/>
<rect x="2396" y="758.0" width="2" height="12.0"/><rect x="2392" y="765.8" width="10" height="4.2"/>
<rect x="2408" y="762.2" width="2" height="11.8"/><rect x="2404" y="763.9" width="10" height="8.1"/>
<rect x="2420" y="770.0" width="2" height="8.1"/><rect x="2416" y="774.0" width="10" height="2.2"/>
<rect x="2432" y="772.0" width="2" height="6.1"/><rect x="2428" y="774.0" width="10" height="2.2"/>
<rect x="2444" y="759.7" width="2" height="14.3"/><rect x="2440" y="763.9" width="10" height="10.1"/>
<rect x="2456" y="751.8" width="2" height="14.0"/><rect x="2452" y="756.0" width="10" height="7.9"/>
<rect x="2468" y="746.2" width="2" height="25.8"/><rect x="2464" y="751.8" width="10" height="12.0"/>
<rect x="2480" y="759.7" width="2" height="12.3"/><rect x="2476" y="763.9" width="10" height="2.0"/>
<rect x="2492" y="756.0" width="2" height="7.9"/><rect x="2488" y="762.2" width="10" height="2.0"/>
<rect x="2504" y="754.1" width="2" height="24.1"/><rect x="2500" y="762.2" width="10" height="2.0"/>
<rect x="2516" y="736.4" width="2" height="31.4"/><rect x="2512" y="742.0" width="10" height="25.8"/>
<rect x="2528" y="728.3" width="2" height="23.6"/><rect x="2524" y="730.2" width="10" height="9.8"/>
<rect x="2540" y="714.1" width="2" height="23.6"/><rect x="2536" y="730.0" width="10" height="2.0"/>
<rect x="2552" y="718.0" width="2" height="9.8"/><rect x="2548" y="720.0" width="10" height="5.7"/>
<rect x="2564" y="718.0" width="2" height="15.7"/><rect x="2560" y="721.9" width="10" height="8.1"/>
<rect x="2576" y="726.0" width="2" height="11.6"/><rect x="2572" y="730.0" width="10" height="7.7"/>
<rect x="2588" y="706.0" width="2" height="29.7"/><rect x="2584" y="708.0" width="10" height="22.0"/>
<rect x="2600" y="704.0" width="2" height="17.9"/><rect x="2596" y="706.0" width="10" height="10.0"/>
<rect x="2612" y="712.1" width="2" height="9.8"/><rect x="2608" y="714.1" width="10" height="3.9"/>
<rect x="2624" y="693.9" width="2" height="20.0"/><rect x="2620" y="696.9" width="10" height="15.0"/>
<rect x="2636" y="697.8" width="2" height="20.1"/><rect x="2632" y="702.1" width="10" height="5.9"/>
<rect x="2648" y="700.1" width="2" height="21.8"/><rect x="2644" y="702.1" width="10" height="14.0"/>
<rect x="2660" y="714.1" width="2" height="9.8"/><rect x="2656" y="720.0" width="10" height="2.0"/>
<rect x="2672" y="696.2" width="2" height="25.7"/><rect x="2668" y="702.1" width="10" height="17.9"/>
<rect x="2684" y="684.1" width="2" height="21.6"/><rect x="2680" y="686.0" width="10" height="13.8"/>
</g>
<g>
<rect x="80" y="195.1" width="2" height="43.0" fill="#30cc5a"/><rect x="76" y="202.5" width="10" height="35.1" fill="#30cc5a"/>
<rect x="92" y="168.1" width="2" height="33.2" fill="#30cc5a"/><rect x="88" y="189.0" width="10" height="6.1" fill="#30cc5a"/>
<rect x="104" y="194.4" width="2" height="20.4" fill="#30cc5a"/><rect x="100" y="198.3" width="10" height="2.9" fill="#30cc5a"/>
<rect x="116" y="206.7" width="2" height="13.0" fill="#f23b3b"/><rect x="112" y="209.9" width="10" height="3.2" fill="#f23b3b"/>
<rect x="128" y="206.7" width="2" height="29.0" fill="#f23b3b"/><rect x="124" y="209.9" width="10" height="13.5" fill="#f23b3b"/>
<rect x="140" y="222.1" width="2" height="55.3" fill="#f23b3b"/><rect x="136" y="222.1" width="10" height="54.1" fill="#f23b3b"/>
<rect x="152" y="256.0" width="2" height="16.0" fill="#30cc5a"/><rect x="148" y="256.0" width="10" height="11.5" fill="#30cc5a"/>
<rect x="164" y="246.0" width="2" height="47.4" fill="#f23b3b"/><rect x="160" y="252.1" width="10" height="29.7" fill="#f23b3b"/>
<rect x="176" y="241.8" width="2" height="38.1" fill="#30cc5a"/><rect x="172" y="273.7" width="10" height="2.5" fill="#30cc5a"/>
<rect x="188" y="268.1" width="2" height="19.7" fill="#f23b3b"/><rect x="184" y="271.3" width="10" height="2.5" fill="#f23b3b"/>
<rect x="200" y="247.9" width="2" height="30.0" fill="#30cc5a"/><rect x="196" y="257.8" width="10" height="20.1" fill="#30cc5a"/>
<rect x="212" y="218.0" width="2" height="31.9" fill="#30cc5a"/><rect x="208" y="218.0" width="10" height="30.0" fill="#30cc5a"/>
<rect x="224" y="216.0" width="2" height="15.2" fill="#30cc5a"/><rect x="220" y="218.0" width="10" height="11.5" fill="#30cc5a"/>
<rect x="236" y="214.0" width="2" height="15.5" fill="#f23b3b"/><rect x="232" y="220.2" width="10" height="2.0" fill="#f23b3b"/>
<rect x="248" y="229.5" width="2" height="16.5" fill="#f23b3b"/><rect x="244" y="232.0" width="10" height="7.9" fill="#f23b3b"/>
<rect x="260" y="230.0" width="2" height="25.8" fill="#f23b3b"/><rect x="256" y="238.1" width="10" height="17.7" fill="#f23b3b"/>
<rect x="272" y="238.1" width="2" height="23.8" fill="#30cc5a"/><rect x="268" y="247.9" width="10" height="14.0" fill="#30cc5a"/>
<rect x="284" y="233.7" width="2" height="19.9" fill="#30cc5a"/><rect x="280" y="242.3" width="10" height="3.7" fill="#30cc5a"/>
<rect x="296" y="206.2" width="2" height="35.6" fill="#30cc5a"/><rect x="292" y="216.0" width="10" height="25.8" fill="#30cc5a"/>
<rect x="308" y="212.3" width="2" height="39.3" fill="#f23b3b"/><rect x="304" y="214.0" width="10" height="11.8" fill="#f23b3b"/>
<rect x="320" y="189.7" width="2" height="36.1" fill="#30cc5a"/><rect x="316" y="195.8" width="10" height="30.0" fill="#30cc5a"/>
<rect x="332" y="160.0" width="2" height="33.9" fill="#30cc5a"/><rect x="328" y="160.0" width="10" height="33.9" fill="#30cc5a"/>
<rect x="344" y="147.9" width="2" height="68.1" fill="#f23b3b"/><rect x="340" y="158.0" width="10" height="25.6" fill="#f23b3b"/>
<rect x="356" y="184.1" width="2" height="25.8" fill="#f23b3b"/><rect x="352" y="188.2" width="10" height="17.4" fill="#f23b3b"/>
<rect x="368" y="206.2" width="2" height="27.5" fill="#f23b3b"/><rect x="364" y="206.2" width="10" height="16.0" fill="#f23b3b"/>
<rect x="380" y="214.0" width="2" height="19.7" fill="#30cc5a"/><rect x="376" y="216.0" width="10" height="3.7" fill="#30cc5a"/>
<rect x="392" y="216.0" width="2" height="39.8" fill="#f23b3b"/><rect x="388" y="216.0" width="10" height="17.7" fill="#f23b3b"/>
<rect x="404" y="230.0" width="2" height="45.7" fill="#f23b3b"/><rect x="400" y="232.0" width="10" height="23.8" fill="#f23b3b"/>
<rect x="416" y="244.3" width="2" height="23.3" fill="#f23b3b"/><rect x="412" y="262.2" width="10" height="3.7" fill="#f23b3b"/>
<rect x="428" y="256.0" width="2" height="35.6" fill="#f23b3b"/><rect x="424" y="259.7" width="10" height="22.1" fill="#f23b3b"/>
<rect x="440" y="270.0" width="2" height="19.7" fill="#30cc5a"/><rect x="436" y="276.2" width="10" height="9.8" fill="#30cc5a"/>
<rect x="452" y="254.1" width="2" height="19.7" fill="#30cc5a"/><rect x="448" y="261.9" width="10" height="11.8" fill="#30cc5a"/>
<rect x="464" y="240.1" width="2" height="25.8" fill="#30cc5a"/><rect x="460" y="260.2" width="10" height="3.7" fill="#30cc5a"/>
<rect x="476" y="247.9" width="2" height="16.0" fill="#f23b3b"/><rect x="472" y="252.1" width="10" height="3.7" fill="#f23b3b"/>
<rect x="488" y="228.3" width="2" height="23.3" fill="#30cc5a"/><rect x="484" y="233.9" width="10" height="11.5" fill="#30cc5a"/>
<rect x="500" y="191.9" width="2" height="41.3" fill="#30cc5a"/><rect x="496" y="194.4" width="10" height="35.6" fill="#30cc5a"/>
<rect x="512" y="189.7" width="2" height="49.6" fill="#f23b3b"/><rect x="508" y="194.4" width="10" height="35.6" fill="#f23b3b"/>
<rect x="524" y="225.8" width="2" height="22.1" fill="#f23b3b"/><rect x="520" y="227.8" width="10" height="12.0" fill="#f23b3b"/>
<rect x="536" y="238.1" width="2" height="31.4" fill="#f23b3b"/><rect x="532" y="239.8" width="10" height="24.1" fill="#f23b3b"/>
<rect x="548" y="240.1" width="2" height="61.9" fill="#30cc5a"/><rect x="544" y="254.1" width="10" height="14.0" fill="#30cc5a"/>
<rect x="560" y="238.1" width="2" height="17.7" fill="#30cc5a"/><rect x="556" y="239.8" width="10" height="14.3" fill="#30cc5a"/>
<rect x="572" y="225.8" width="2" height="38.1" fill="#f23b3b"/><rect x="568" y="239.8" width="10" height="14.3" fill="#f23b3b"/>
<rect x="584" y="252.1" width="2" height="27.8" fill="#f23b3b"/><rect x="580" y="263.9" width="10" height="2.0" fill="#f23b3b"/>
<rect x="596" y="252.1" width="2" height="23.6" fill="#30cc5a"/><rect x="592" y="254.1" width="10" height="11.8" fill="#30cc5a"/>
<rect x="608" y="241.8" width="2" height="26.3" fill="#30cc5a"/><rect x="604" y="243.8" width="10" height="12.0" fill="#30cc5a"/>
<rect x="620" y="233.7" width="2" height="40.0" fill="#f23b3b"/><rect x="616" y="241.8" width="10" height="30.2" fill="#f23b3b"/>
<rect x="632" y="260.2" width="2" height="17.7" fill="#f23b3b"/><rect x="628" y="263.9" width="10" height="2.0" fill="#f23b3b"/>
<rect x="644" y="263.9" width="2" height="17.9" fill="#f23b3b"/><rect x="640" y="263.9" width="10" height="8.1" fill="#f23b3b"/>
<rect x="656" y="263.9" width="2" height="8.1" fill="#30cc5a"/><rect x="652" y="268.1" width="10" height="2.0" fill="#30cc5a"/>
<rect x="668" y="238.1" width="2" height="27.8" fill="#30cc5a"/><rect x="664" y="241.8" width="10" height="24.1" fill="#30cc5a"/>
<rect x="680" y="236.3" width="2" height="13.5" fill="#30cc5a"/><rect x="676" y="241.3" width="10" height="2.0" fill="#30cc5a"/>
<rect x="692" y="222.1" width="2" height="19.2" fill="#30cc5a"/><rect x="688" y="226.0" width="10" height="12.0" fill="#30cc5a"/>
<rect x="704" y="206.1" width="2" height="23.6" fill="#30cc5a"/><rect x="700" y="214.2" width="10" height="5.7" fill="#30cc5a"/>
<rect x="716" y="210.0" width="2" height="30.0" fill="#f23b3b"/><rect x="712" y="210.0" width="10" height="25.8" fill="#f23b3b"/>
<rect x="728" y="222.1" width="2" height="19.9" fill="#30cc5a"/><rect x="724" y="232.2" width="10" height="5.9" fill="#30cc5a"/>
<rect x="740" y="226.0" width="2" height="23.8" fill="#f23b3b"/><rect x="736" y="238.1" width="10" height="3.9" fill="#f23b3b"/>
<rect x="752" y="238.1" width="2" height="11.8" fill="#f23b3b"/><rect x="748" y="244.2" width="10" height="3.9" fill="#f23b3b"/>
<rect x="764" y="238.1" width="2" height="13.8" fill="#30cc5a"/><rect x="760" y="242.0" width="10" height="2.2" fill="#30cc5a"/>
<rect x="776" y="233.9" width="2" height="25.8" fill="#f23b3b"/><rect x="772" y="241.3" width="10" height="18.4" fill="#f23b3b"/>
<rect x="788" y="258.0" width="2" height="13.5" fill="#f23b3b"/><rect x="784" y="258.0" width="10" height="9.8" fill="#f23b3b"/>
<rect x="800" y="267.8" width="2" height="18.2" fill="#f23b3b"/><rect x="796" y="267.8" width="10" height="14.0" fill="#f23b3b"/>
<rect x="812" y="269.5" width="2" height="22.6" fill="#30cc5a"/><rect x="808" y="276.1" width="10" height="7.6" fill="#30cc5a"/>
<rect x="824" y="281.8" width="2" height="65.8" fill="#f23b3b"/><rect x="820" y="305.9" width="10" height="6.1" fill="#f23b3b"/>
<rect x="836" y="287.9" width="2" height="24.1" fill="#f23b3b"/><rect x="832" y="296.0" width="10" height="2.0" fill="#f23b3b"/>
<rect x="848" y="264.1" width="2" height="36.1" fill="#f23b3b"/><rect x="844" y="289.9" width="10" height="7.9" fill="#f23b3b"/>
<rect x="860" y="281.8" width="2" height="44.2" fill="#f23b3b"/><rect x="856" y="289.9" width="10" height="34.2" fill="#f23b3b"/>
<rect x="872" y="312.0" width="2" height="16.0" fill="#30cc5a"/><rect x="868" y="316.2" width="10" height="2.0" fill="#30cc5a"/>
<rect x="884" y="308.1" width="2" height="16.0" fill="#30cc5a"/><rect x="880" y="312.0" width="10" height="2.2" fill="#30cc5a"/>
<rect x="896" y="300.2" width="2" height="27.8" fill="#f23b3b"/><rect x="892" y="314.2" width="10" height="9.8" fill="#f23b3b"/>
<rect x="908" y="316.2" width="2" height="13.5" fill="#f23b3b"/><rect x="904" y="324.1" width="10" height="2.0" fill="#f23b3b"/>
<rect x="920" y="324.1" width="2" height="23.6" fill="#f23b3b"/><rect x="916" y="329.7" width="10" height="2.5" fill="#f23b3b"/>
<rect x="932" y="334.1" width="2" height="31.7" fill="#30cc5a"/><rect x="928" y="340.0" width="10" height="7.6" fill="#30cc5a"/>
<rect x="944" y="324.1" width="2" height="31.9" fill="#f23b3b"/><rect x="940" y="334.1" width="10" height="21.9" fill="#f23b3b"/>
<rect x="956" y="340.0" width="2" height="21.6" fill="#30cc5a"/><rect x="952" y="344.0" width="10" height="6.1" fill="#30cc5a"/>
<rect x="968" y="340.0" width="2" height="11.8" fill="#f23b3b"/><rect x="964" y="346.2" width="10" height="2.0" fill="#f23b3b"/>
<rect x="980" y="328.0" width="2" height="14.0" fill="#30cc5a"/><rect x="976" y="334.1" width="10" height="4.2" fill="#30cc5a"/>
<rect x="992" y="308.1" width="2" height="26.0" fill="#30cc5a"/><rect x="988" y="313.7" width="10" height="18.4" fill="#30cc5a"/>
<rect x="1004" y="317.9" width="2" height="17.9" fill="#f23b3b"/><rect x="1000" y="319.9" width="10" height="8.1" fill="#f23b3b"/>
<rect x="1016" y="321.8" width="2" height="23.8" fill="#f23b3b"/><rect x="1012" y="332.2" width="10" height="7.9" fill="#f23b3b"/>
<rect x="1028" y="334.1" width="2" height="17.7" fill="#f23b3b"/><rect x="1024" y="340.0" width="10" height="3.9" fill="#f23b3b"/>
<rect x="1040" y="340.0" width="2" height="11.8" fill="#f23b3b"/><rect x="1036" y="344.0" width="10" height="6.1" fill="#f23b3b"/>
<rect x="1052" y="344.0" width="2" height="7.9" fill="#30cc5a"/><rect x="1048" y="347.6" width="10" height="2.5" fill="#30cc5a"/>
<rect x="1064" y="348.1" width="2" height="19.7" fill="#f23b3b"/><rect x="1060" y="348.1" width="10" height="17.7" fill="#f23b3b"/>
<rect x="1076" y="364.4" width="2" height="11.1" fill="#f23b3b"/><rect x="1072" y="366.1" width="10" height="3.2" fill="#f23b3b"/>
<rect x="1088" y="374.2" width="2" height="11.8" fill="#30cc5a"/><rect x="1084" y="380.4" width="10" height="2.0" fill="#30cc5a"/>
<rect x="1100" y="380.4" width="2" height="13.5" fill="#30cc5a"/><rect x="1096" y="381.6" width="10" height="2.0" fill="#30cc5a"/>
<rect x="1112" y="368.1" width="2" height="11.8" fill="#30cc5a"/><rect x="1108" y="374.2" width="10" height="3.7" fill="#30cc5a"/>
<rect x="1124" y="366.1" width="2" height="25.8" fill="#f23b3b"/><rect x="1120" y="372.3" width="10" height="7.6" fill="#f23b3b"/>
<rect x="1136" y="372.3" width="2" height="9.3" fill="#30cc5a"/><rect x="1132" y="376.2" width="10" height="2.9" fill="#30cc5a"/>
<rect x="1148" y="376.2" width="2" height="19.7" fill="#f23b3b"/><rect x="1144" y="377.9" width="10" height="16.0" fill="#f23b3b"/>
<rect x="1160" y="386.0" width="2" height="25.8" fill="#f23b3b"/><rect x="1156" y="393.9" width="10" height="11.8" fill="#f23b3b"/>
<rect x="1172" y="377.9" width="2" height="23.8" fill="#30cc5a"/><rect x="1168" y="386.0" width="10" height="15.7" fill="#30cc5a"/>
<rect x="1184" y="374.2" width="2" height="21.6" fill="#f23b3b"/><rect x="1180" y="390.2" width="10" height="5.7" fill="#f23b3b"/>
<rect x="1196" y="395.8" width="2" height="39.8" fill="#f23b3b"/><rect x="1192" y="400.0" width="10" height="34.4" fill="#f23b3b"/>
<rect x="1208" y="436.1" width="2" height="17.9" fill="#f23b3b"/><rect x="1204" y="436.1" width="10" height="16.0" fill="#f23b3b"/>
<rect x="1220" y="444.3" width="2" height="21.6" fill="#f23b3b"/><rect x="1216" y="447.9" width="10" height="16.0" fill="#f23b3b"/>
<rect x="1232" y="454.1" width="2" height="16.0" fill="#f23b3b"/><rect x="1228" y="463.9" width="10" height="2.0" fill="#f23b3b"/>
<rect x="1244" y="468.1" width="2" height="16.0" fill="#f23b3b"/><rect x="1240" y="470.0" width="10" height="7.9" fill="#f23b3b"/>
<rect x="1256" y="476.2" width="2" height="7.9" fill="#f23b3b"/><rect x="1252" y="479.9" width="10" height="4.2" fill="#f23b3b"/>
<rect x="1268" y="482.3" width="2" height="7.4" fill="#f23b3b"/><rect x="1264" y="482.3" width="10" height="2.0" fill="#f23b3b"/>
<rect x="1280" y="482.3" width="2" height="21.6" fill="#f23b3b"/><rect x="1276" y="486.0" width="10" height="17.9" fill="#f23b3b"/>
<rect x="1292" y="500.0" width="2" height="29.0" fill="#f23b3b"/><rect x="1288" y="504.0" width="10" height="23.8" fill="#f23b3b"/>
<rect x="1304" y="521.9" width="2" height="15.7" fill="#f23b3b"/><rect x="1300" y="528.1" width="10" height="7.8" fill="#f23b3b"/>
<rect x="1316" y="530.0" width="2" height="15.7" fill="#f23b3b"/><rect x="1312" y="532.2" width="10" height="5.4" fill="#f23b3b"/>
<rect x="1328" y="534.1" width="2" height="13.5" fill="#f23b3b"/><rect x="1324" y="540.0" width="10" height="2.2" fill="#f23b3b"/>
<rect x="1340" y="534.1" width="2" height="15.7" fill="#f23b3b"/><rect x="1336" y="542.2" width="10" height="7.6" fill="#f23b3b"/>
<rect x="1352" y="554.3" width="2" height="11.6" fill="#f23b3b"/><rect x="1348" y="556.5" width="10" height="3.2" fill="#f23b3b"/>
<rect x="1364" y="556.5" width="2" height="19.5" fill="#30cc5a"/><rect x="1360" y="556.5" width="10" height="5.1" fill="#30cc5a"/>
<rect x="1376" y="558.4" width="2" height="21.1" fill="#f23b3b"/><rect x="1372" y="558.4" width="10" height="21.1" fill="#f23b3b"/>
<rect x="1388" y="571.9" width="2" height="24.3" fill="#30cc5a"/><rect x="1384" y="574.1" width="10" height="5.9" fill="#30cc5a"/>
<rect x="1400" y="560.3" width="2" height="21.9" fill="#30cc5a"/><rect x="1396" y="565.9" width="10" height="2.2" fill="#30cc5a"/>
<rect x="1412" y="558.4" width="2" height="13.5" fill="#f23b3b"/><rect x="1408" y="564.3" width="10" height="3.5" fill="#f23b3b"/>
<rect x="1424" y="564.3" width="2" height="11.6" fill="#f23b3b"/><rect x="1420" y="564.3" width="10" height="9.7" fill="#f23b3b"/>
<rect x="1436" y="534.1" width="2" height="33.8" fill="#30cc5a"/><rect x="1432" y="554.3" width="10" height="11.6" fill="#30cc5a"/>
<rect x="1448" y="528.1" width="2" height="17.6" fill="#30cc5a"/><rect x="1444" y="528.1" width="10" height="17.6" fill="#30cc5a"/>
<rect x="1460" y="512.4" width="2" height="21.6" fill="#30cc5a"/><rect x="1456" y="512.4" width="10" height="9.5" fill="#30cc5a"/>
<rect x="1472" y="511.9" width="2" height="26.2" fill="#f23b3b"/><rect x="1468" y="515.9" width="10" height="10.0" fill="#f23b3b"/>
<rect x="1484" y="520.5" width="2" height="9.5" fill="#f23b3b"/><rect x="1480" y="520.5" width="10" height="5.4" fill="#f23b3b"/>
<rect x="1496" y="515.9" width="2" height="24.1" fill="#f23b3b"/><rect x="1492" y="521.9" width="10" height="10.0" fill="#f23b3b"/>
<rect x="1508" y="526.5" width="2" height="13.5" fill="#f23b3b"/><rect x="1504" y="530.0" width="10" height="3.2" fill="#f23b3b"/>
<rect x="1520" y="536.2" width="2" height="13.5" fill="#f23b3b"/><rect x="1516" y="538.1" width="10" height="7.6" fill="#f23b3b"/>
<rect x="1532" y="538.1" width="2" height="9.5" fill="#30cc5a"/><rect x="1528" y="543.5" width="10" height="2.7" fill="#30cc5a"/>
<rect x="1544" y="540.0" width="2" height="20.3" fill="#f23b3b"/><rect x="1540" y="540.0" width="10" height="15.7" fill="#f23b3b"/>
<rect x="1556" y="552.4" width="2" height="13.5" fill="#30cc5a"/><rect x="1552" y="552.4" width="10" height="3.2" fill="#30cc5a"/>
<rect x="1568" y="550.3" width="2" height="15.7" fill="#30cc5a"/><rect x="1564" y="552.4" width="10" height="5.4" fill="#30cc5a"/>
<rect x="1580" y="556.2" width="2" height="13.8" fill="#f23b3b"/><rect x="1576" y="560.3" width="10" height="3.0" fill="#f23b3b"/>
<rect x="1592" y="684.4" width="2" height="35.1" fill="#f23b3b"/><rect x="1588" y="688.1" width="10" height="24.1" fill="#f23b3b"/>
<rect x="1604" y="692.0" width="2" height="21.4" fill="#30cc5a"/><rect x="1600" y="701.8" width="10" height="10.3" fill="#30cc5a"/>
<rect x="1616" y="674.1" width="2" height="39.3" fill="#30cc5a"/><rect x="1612" y="676.0" width="10" height="25.8" fill="#30cc5a"/>
<rect x="1628" y="664.2" width="2" height="21.6" fill="#f23b3b"/><rect x="1624" y="672.1" width="10" height="3.9" fill="#f23b3b"/>
<rect x="1640" y="678.2" width="2" height="23.6" fill="#f23b3b"/><rect x="1636" y="679.7" width="10" height="18.4" fill="#f23b3b"/>
<rect x="1652" y="701.8" width="2" height="11.5" fill="#f23b3b"/><rect x="1648" y="701.8" width="10" height="6.1" fill="#f23b3b"/>
<rect x="1664" y="699.9" width="2" height="17.7" fill="#30cc5a"/><rect x="1660" y="704.0" width="10" height="13.5" fill="#30cc5a"/>
<rect x="1676" y="698.1" width="2" height="9.8" fill="#30cc5a"/><rect x="1672" y="701.8" width="10" height="2.2" fill="#30cc5a"/>
<rect x="1688" y="699.9" width="2" height="7.4" fill="#f23b3b"/><rect x="1684" y="701.8" width="10" height="5.4" fill="#f23b3b"/>
<rect x="1700" y="683.9" width="2" height="24.1" fill="#30cc5a"/><rect x="1696" y="685.8" width="10" height="20.1" fill="#30cc5a"/>
<rect x="1712" y="684.4" width="2" height="7.6" fill="#f23b3b"/><rect x="1708" y="684.4" width="10" height="3.7" fill="#f23b3b"/>
<rect x="1724" y="682.2" width="2" height="13.5" fill="#f23b3b"/><rect x="1720" y="685.8" width="10" height="2.2" fill="#f23b3b"/>
<rect x="1736" y="679.7" width="2" height="10.3" fill="#30cc5a"/><rect x="1732" y="682.2" width="10" height="3.7" fill="#30cc5a"/>
<rect x="1748" y="684.4" width="2" height="13.8" fill="#f23b3b"/><rect x="1744" y="684.4" width="10" height="5.7" fill="#f23b3b"/>
<rect x="1760" y="682.2" width="2" height="17.7" fill="#30cc5a"/><rect x="1756" y="685.8" width="10" height="2.2" fill="#30cc5a"/>
<rect x="1772" y="682.2" width="2" height="13.5" fill="#f23b3b"/><rect x="1768" y="683.9" width="10" height="11.8" fill="#f23b3b"/>
<rect x="1784" y="682.2" width="2" height="13.5" fill="#30cc5a"/><rect x="1780" y="685.8" width="10" height="7.9" fill="#30cc5a"/>
<rect x="1796" y="688.1" width="2" height="17.9" fill="#f23b3b"/><rect x="1792" y="692.0" width="10" height="7.9" fill="#f23b3b"/>
<rect x="1808" y="688.1" width="2" height="11.8" fill="#30cc5a"/><rect x="1804" y="692.0" width="10" height="7.9" fill="#30cc5a"/>
<rect x="1820" y="672.1" width="2" height="19.9" fill="#30cc5a"/><rect x="1816" y="678.2" width="10" height="9.8" fill="#30cc5a"/>
<rect x="1832" y="669.9" width="2" height="8.4" fill="#30cc5a"/><rect x="1828" y="676.0" width="10" height="2.2" fill="#30cc5a"/>
<rect x="1844" y="660.0" width="2" height="19.7" fill="#30cc5a"/><rect x="1840" y="665.9" width="10" height="10.1" fill="#30cc5a"/>
<rect x="1856" y="664.2" width="2" height="11.8" fill="#f23b3b"/><rect x="1852" y="664.2" width="10" height="5.7" fill="#f23b3b"/>
<rect x="1868" y="667.9" width="2" height="4.2" fill="#30cc5a"/><rect x="1864" y="669.9" width="10" height="2.2" fill="#30cc5a"/>
<rect x="1880" y="664.2" width="2" height="9.8" fill="#30cc5a"/><rect x="1876" y="667.9" width="10" height="2.0" fill="#30cc5a"/>
<rect x="1892" y="658.1" width="2" height="16.0" fill="#30cc5a"/><rect x="1888" y="665.9" width="10" height="3.9" fill="#30cc5a"/>
<rect x="1904" y="665.9" width="2" height="13.8" fill="#f23b3b"/><rect x="1900" y="665.9" width="10" height="12.3" fill="#f23b3b"/>
<rect x="1916" y="672.1" width="2" height="10.1" fill="#f23b3b"/><rect x="1912" y="676.0" width="10" height="4.2" fill="#f23b3b"/>
<rect x="1928" y="678.2" width="2" height="25.8" fill="#f23b3b"/><rect x="1924" y="680.2" width="10" height="13.5" fill="#f23b3b"/>
<rect x="1940" y="690.0" width="2" height="8.1" fill="#f23b3b"/><rect x="1936" y="695.7" width="10" height="2.5" fill="#f23b3b"/>
<rect x="1952" y="690.0" width="2" height="11.8" fill="#f23b3b"/><rect x="1948" y="693.7" width="10" height="6.1" fill="#f23b3b"/>
<rect x="1964" y="690.0" width="2" height="8.1" fill="#30cc5a"/><rect x="1960" y="693.7" width="10" height="2.0" fill="#30cc5a"/>
<rect x="1976" y="690.0" width="2" height="11.8" fill="#f23b3b"/><rect x="1972" y="693.7" width="10" height="6.1" fill="#f23b3b"/>
<rect x="1988" y="685.8" width="2" height="16.0" fill="#30cc5a"/><rect x="1984" y="692.0" width="10" height="7.9" fill="#30cc5a"/>
<rect x="2000" y="688.1" width="2" height="10.1" fill="#f23b3b"/><rect x="1996" y="692.0" width="10" height="3.7" fill="#f23b3b"/>
<rect x="2012" y="685.8" width="2" height="9.8" fill="#30cc5a"/><rect x="2008" y="688.1" width="10" height="5.7" fill="#30cc5a"/>
<rect x="2024" y="688.1" width="2" height="11.8" fill="#f23b3b"/><rect x="2020" y="688.1" width="10" height="7.6" fill="#f23b3b"/>
<rect x="2036" y="693.7" width="2" height="18.4" fill="#f23b3b"/><rect x="2032" y="695.7" width="10" height="10.3" fill="#f23b3b"/>
<rect x="2048" y="696.2" width="2" height="13.5" fill="#30cc5a"/><rect x="2044" y="698.1" width="10" height="7.9" fill="#30cc5a"/>
<rect x="2060" y="696.6" width="2" height="4.9" fill="#f23b3b"/><rect x="2056" y="697.8" width="10" height="2.5" fill="#f23b3b"/>
<rect x="2072" y="692.1" width="2" height="9.3" fill="#30cc5a"/><rect x="2068" y="694.1" width="10" height="3.7" fill="#30cc5a"/>
<rect x="2084" y="690.2" width="2" height="7.6" fill="#f23b3b"/><rect x="2080" y="693.4" width="10" height="2.5" fill="#f23b3b"/>
<rect x="2096" y="690.2" width="2" height="10.1" fill="#f23b3b"/><rect x="2092" y="697.8" width="10" height="2.5" fill="#f23b3b"/>
<rect x="2108" y="690.2" width="2" height="9.8" fill="#30cc5a"/><rect x="2104" y="694.1" width="10" height="5.9" fill="#30cc5a"/>
<rect x="2120" y="688.0" width="2" height="13.5" fill="#f23b3b"/><rect x="2116" y="694.1" width="10" height="3.7" fill="#f23b3b"/>
<rect x="2132" y="695.8" width="2" height="20.1" fill="#f23b3b"/><rect x="2128" y="695.8" width="10" height="16.0" fill="#f23b3b"/>
<rect x="2144" y="709.8" width="2" height="16.0" fill="#f23b3b"/><rect x="2140" y="709.8" width="10" height="16.0" fill="#f23b3b"/>
<rect x="2156" y="708.1" width="2" height="17.7" fill="#30cc5a"/><rect x="2152" y="711.8" width="10" height="14.0" fill="#30cc5a"/>
<rect x="2168" y="703.9" width="2" height="9.8" fill="#f23b3b"/><rect x="2164" y="711.8" width="10" height="2.0" fill="#f23b3b"/>
<rect x="2180" y="692.1" width="2" height="19.7" fill="#30cc5a"/><rect x="2176" y="695.8" width="10" height="16.0" fill="#30cc5a"/>
<rect x="2192" y="690.2" width="2" height="11.3" fill="#30cc5a"/><rect x="2188" y="690.2" width="10" height="5.7" fill="#30cc5a"/>
<rect x="2204" y="684.0" width="2" height="11.8" fill="#30cc5a"/><rect x="2200" y="690.2" width="10" height="2.0" fill="#30cc5a"/>
<rect x="2216" y="681.8" width="2" height="14.0" fill="#30cc5a"/><rect x="2212" y="688.0" width="10" height="4.2" fill="#30cc5a"/>
<rect x="2228" y="688.0" width="2" height="20.1" fill="#f23b3b"/><rect x="2224" y="690.2" width="10" height="13.8" fill="#f23b3b"/>
<rect x="2240" y="702.0" width="2" height="38.1" fill="#f23b3b"/><rect x="2236" y="703.9" width="10" height="31.9" fill="#f23b3b"/>
<rect x="2252" y="731.9" width="2" height="13.8" fill="#f23b3b"/><rect x="2248" y="740.0" width="10" height="3.7" fill="#f23b3b"/>
<rect x="2264" y="740.0" width="2" height="14.0" fill="#f23b3b"/><rect x="2260" y="743.7" width="10" height="3.7" fill="#f23b3b"/>
<rect x="2276" y="740.0" width="2" height="7.9" fill="#30cc5a"/><rect x="2272" y="742.0" width="10" height="5.9" fill="#30cc5a"/>
<rect x="2288" y="730.2" width="2" height="11.8" fill="#30cc5a"/><rect x="2284" y="738.1" width="10" height="3.9" fill="#30cc5a"/>
<rect x="2300" y="740.0" width="2" height="14.0" fill="#f23b3b"/><rect x="2296" y="740.0" width="10" height="5.7" fill="#f23b3b"/>
<rect x="2312" y="740.0" width="2" height="11.8" fill="#f23b3b"/><rect x="2308" y="742.0" width="10" height="7.9" fill="#f23b3b"/>
<rect x="2324" y="743.7" width="2" height="10.3" fill="#30cc5a"/><rect x="2320" y="747.9" width="10" height="2.0" fill="#30cc5a"/>
<rect x="2336" y="743.7" width="2" height="8.1" fill="#f23b3b"/><rect x="2332" y="743.7" width="10" height="2.0" fill="#f23b3b"/>
<rect x="2348" y="743.7" width="2" height="14.3" fill="#f23b3b"/><rect x="2344" y="747.9" width="10" height="2.5" fill="#f23b3b"/>
<rect x="2360" y="751.8" width="2" height="10.3" fill="#f23b3b"/><rect x="2356" y="756.0" width="10" height="3.7" fill="#f23b3b"/>
<rect x="2372" y="742.0" width="2" height="17.7" fill="#30cc5a"/><rect x="2368" y="754.1" width="10" height="5.7" fill="#30cc5a"/>
<rect x="2384" y="742.0" width="2" height="30.0" fill="#f23b3b"/><rect x="2380" y="749.9" width="10" height="20.1" fill="#f23b3b"/>
<rect x="2396" y="758.0" width="2" height="12.0" fill="#30cc5a"/><rect x="2392" y="765.8" width="10" height="4.2" fill="#30cc5a"/>
<rect x="2408" y="762.2" width="2" height="11.8" fill="#f23b3b"/><rect x="2404" y="763.9" width="10" height="8.1" fill="#f23b3b"/>
<rect x="2420" y="770.0" width="2" height="8.1" fill="#f23b3b"/><rect x="2416" y="774.0" width="10" height="2.2" fill="#f23b3b"/>
<rect x="2432" y="772.0" width="2" height="6.1" fill="#30cc5a"/><rect x="2428" y="774.0" width="10" height="2.2" fill="#30cc5a"/>
<rect x="2444" y="759.7" width="2" height="14.3" fill="#30cc5a"/><rect x="2440" y="763.9" width="10" height="10.1" fill="#30cc5a"/>
<rect x="2456" y="751.8" width="2" height="14.0" fill="#30cc5a"/><rect x="2452" y="756.0" width="10" height="7.9" fill="#30cc5a"/>
<rect x="2468" y="746.2" width="2" height="25.8" fill="#f23b3b"/><rect x="2464" y="751.8" width="10" height="12.0" fill="#f23b3b"/>
<rect x="2480" y="759.7" width="2" height="12.3" fill="#30cc5a"/><rect x="2476" y="763.9" width="10" height="2.0" fill="#30cc5a"/>
<rect x="2492" y="756.0" width="2" height="7.9" fill="#30cc5a"/><rect x="2488" y="762.2" width="10" height="2.0" fill="#30cc5a"/>
<rect x="2504" y="754.1" width="2" height="24.1" fill="#f23b3b"/><rect x="2500" y="762.2" width="10" height="2.0" fill="#f23b3b"/>
<rect x="2516" y="736.4" width="2" height="31.4" fill="#30cc5a"/><rect x="2512" y="742.0" width="10" height="25.8" fill="#30cc5a"/>
<rect x="2528" y="728.3" width="2" height="23.6" fill="#30cc5a"/><rect x="2524" y="730.2" width="10" height="9.8" fill="#30cc5a"/>
<rect x="2540" y="714.1" width="2" height="23.6" fill="#30cc5a"/><rect x="2536" y="730.0" width="10" height="2.0" fill="#30cc5a"/>
<rect x="2552" y="718.0" width="2" height="9.8" fill="#30cc5a"/><rect x="2548" y="720.0" width="10" height="5.7" fill="#30cc5a"/>
<rect x="2564" y="718.0" width="2" height="15.7" fill="#f23b3b"/><rect x="2560" y="721.9" width="10" height="8.1" fill="#f23b3b"/>
<rect x="2576" y="726.0" width="2" height="11.6" fill="#30cc5a"/><rect x="2572" y="730.0" width="10" height="7.7" fill="#30cc5a"/>
<rect x="2588" y="706.0" width="2" height="29.7" fill="#30cc5a"/><rect x="2584" y="708.0" width="10" height="22.0" fill="#30cc5a"/>
<rect x="2600" y="704.0" width="2" height="17.9" fill="#f23b3b"/><rect x="2596" y="706.0" width="10" height="10.0" fill="#f23b3b"/>
<rect x="2612" y="712.1" width="2" height="9.8" fill="#30cc5a"/><rect x="2608" y="714.1" width="10" height="3.9" fill="#30cc5a"/>
<rect x="2624" y="693.9" width="2" height="20.0" fill="#30cc5a"/><rect x="2620" y="696.9" width="10" height="15.0" fill="#30cc5a"/>
<rect x="2636" y="697.8" width="2" height="20.1" fill="#f23b3b"/><rect x="2632" y="702.1" width="10" height="5.9" fill="#f23b3b"/>
<rect x="2648" y="700.1" width="2" height="21.8" fill="#f23b3b"/><rect x="2644" y="702.1" width="10" height="14.0" fill="#f23b3b"/>
<rect x="2660" y="714.1" width="2" height="9.8" fill="#f23b3b"/><rect x="2656" y="720.0" width="10" height="2.0" fill="#f23b3b"/>
<rect x="2672" y="696.2" width="2" height="25.7" fill="#30cc5a"/><rect x="2668" y="702.1" width="10" height="17.9" fill="#30cc5a"/>
<rect x="2684" y="684.1" width="2" height="21.6" fill="#30cc5a"/><rect x="2680" y="686.0" width="10" height="13.8" fill="#30cc5a"/>
</g>
<polyline points="69.9,422.9 333.3,378.1 415.3,365.2 427.7,365.2 477.4,357.0 489.8,357.0 571.8,343.4 584.2,342.9 621.5,337.1 640.0,335.9 668.0,330.8 681.9,330.8 716.9,324.7 728.5,324.7 765.8,318.9 777.4,318.9 800.7,316.8 812.4,314.9 835.7,313.1 859.0,311.0 882.3,309.1 896.2,308.0 907.9,306.8 919.5,306.8 933.5,304.5 991.7,303.3 1003.4,301.0 1173.4,301.0 1185.1,302.6 1208.4,302.6 1220.0,304.5 1240.0,304.4 1256.7,306.7 1266.7,306.7 1280.1,309.0 1293.4,309.0 1303.4,311.1 1316.8,311.1 1330.2,313.1 1340.2,313.1 1363.5,316.7 1376.9,316.7 1390.3,319.1 1413.6,319.1 1427.0,321.1 1450.4,321.1 1460.4,322.7 1497.1,322.7 1510.4,324.7 1533.8,324.7 1543.8,326.7 1557.2,326.7 1570.6,329.1 1580.6,329.1 1617.3,334.4 1629.0,334.4 1784.2,360.1 1797.6,365.1 1844.3,372.8 1857.7,377.5 1941.2,390.9 1951.2,390.9 2024.6,402.9 2038.0,402.9 2061.4,406.9 2074.7,406.9 2100.0,410.7 2121.0,414.9 2132.6,414.9 2300.3,442.9 2314.3,447.1 2360.9,455.0 2372.5,459.2 2409.8,465.7 2421.5,469.0 2433.1,471.3 2444.8,475.0 2468.0,479.0 2482.0,483.0 2493.7,485.3 2505.3,489.0 2551.9,497.2 2563.5,501.1 2624.1,511.6 2635.8,515.1 2684.7,522.8" fill="none" stroke="#d2ac3b" stroke-width="2.1" stroke-linejoin="round" opacity="0.5"/>
<polyline points="70.0,315.3 81.0,317.3 104.7,313.0 117.0,309.0 129.6,306.8 142.0,306.8 164.0,303.0 176.8,302.9 201.6,299.0 214.0,294.9 224.0,292.9 248.8,285.0 261.0,283.0 272.4,280.0 296.1,273.7 320.7,267.6 345.3,257.8 369.8,254.0 394.4,250.4 419.0,246.7 453.4,246.7 478.0,241.8 512.3,236.9 541.8,236.9 566.4,237.4 585.1,235.2 615.5,236.9 635.2,237.4 654.9,241.0 675.0,241.3 699.6,243.0 748.7,243.0 773.3,241.3 802.8,241.3 837.2,246.9 849.4,246.9 871.6,250.6 886.3,251.0 908.4,254.8 933.0,262.1 957.6,269.0 982.1,273.2 1006.7,276.9 1019.0,277.4 1043.6,281.0 1068.1,285.0 1090.2,289.2 1114.8,296.5 1136.9,301.4 1149.2,305.0 1173.8,310.8 1191.0,315.0 1215.5,323.0 1235.0,329.0 1269.4,340.4 1308.7,360.0 1354.7,383.2 1365.1,390.0 1413.2,414.8 1437.3,425.1 1509.5,448.5 1519.8,454.7 1578.3,474.3 1602.3,489.8 1629.9,503.5 1664.2,524.8 1700.0,543.1 1726.4,555.2 1768.8,580.0 1806.6,596.3 1854.8,611.8 1880.6,618.7 1906.4,625.1 1928.7,630.7 1952.8,636.7 1988.9,643.3 2000.9,647.1 2035.0,653.6 2055.0,658.5 2079.6,667.6 2104.1,673.7 2128.7,681.1 2143.5,684.8 2158.2,687.2 2177.9,692.9 2202.4,694.6 2227.0,692.9 2239.3,694.6 2263.8,696.6 2288.4,696.6 2311.8,698.6 2337.3,702.9 2349.1,702.9 2372.7,706.5 2384.5,706.5 2492.6,725.2 2516.2,727.1 2575.2,731.1 2649.9,731.1 2661.7,733.0 2685.3,733.0" fill="none" stroke="#ff9b32" stroke-width="2.2" stroke-linejoin="round" opacity="0.84"/>
<polyline points="70.4,268.7 80.8,267.1 104.7,253.5 125.5,242.3 155.8,236.7 175.0,238.3 203.7,238.3 219.7,233.5 235.6,230.3 251.6,230.3 283.5,236.7 321.9,236.7 331.5,234.8 369.8,234.8 379.4,230.3 403.3,228.7 427.3,228.7 453.4,232.7 478.0,237.4 492.7,234.4 517.3,230.0 536.9,235.6 566.4,241.8 591.0,248.0 615.5,251.6 635.2,255.3 654.9,255.3 675.0,252.3 699.6,246.7 724.1,248.0 748.7,248.6 773.3,248.6 797.9,253.0 822.4,255.5 847.0,260.4 871.6,264.6 886.3,267.5 908.4,274.4 933.0,284.2 945.3,292.0 969.8,299.0 994.4,311.3 1019.0,319.9 1043.6,329.2 1068.1,334.5 1092.7,342.0 1123.5,350.9 1145.6,355.8 1172.6,362.7 1207.0,371.8 1231.6,386.5 1256.1,401.3 1293.0,427.0 1329.8,450.4 1354.4,467.6 1379.0,487.2 1412.8,512.4 1442.6,530.0 1464.2,535.4 1491.2,540.8 1518.2,545.7 1545.3,549.7 1580.4,550.8 1607.4,566.5 1626.4,573.2 1653.4,588.1 1677.7,603.0 1700.0,619.6 1748.2,652.2 1773.9,666.8 1789.4,674.6 1810.1,689.2 1820.4,693.2 1834.1,693.2 1847.9,690.9 1858.2,690.9 1882.3,688.3 1916.7,682.8 1940.8,682.8 1952.8,684.6 2013.0,684.6 2026.7,686.6 2055.0,686.5 2091.9,691.0 2128.7,697.1 2153.3,700.2 2177.9,700.7 2202.4,700.2 2217.2,698.3 2231.9,700.7 2251.6,705.7 2263.8,709.3 2276.1,709.3 2300.0,714.3 2337.3,721.2 2359.0,729.1 2384.5,733.6 2408.1,737.9 2421.9,740.9 2433.7,746.8 2445.5,749.7 2463.1,755.6 2496.6,759.0 2541.8,759.0 2559.5,755.6 2581.1,754.6 2612.5,748.7 2634.2,740.9 2659.7,736.0 2685.3,728.1" fill="none" stroke="#fe31e3" stroke-width="2.3" stroke-linejoin="round" opacity="0.36"/>
<line x1="333" y1="157" x2="2685" y2="707" stroke="#bf38d6" stroke-width="2.2"/>
<line x1="1857" y1="659" x2="2685" y2="699.3" stroke="#bf38d6" stroke-width="2.2"/>
<line x1="1665" y1="725" x2="2685" y2="781" stroke="#03a0ea" stroke-width="2.5"/>
<path d="M67.5,780 L83.5,786 L83.5,816 L51.5,816 L51.5,786 Z" fill="#15271b" stroke="#16191f" stroke-width="9" stroke-linejoin="round"/><path d="M67.5,780 L83.5,786 L83.5,816 L51.5,816 L51.5,786 Z" fill="#15271b" stroke="#0fae4c" stroke-width="4.5" stroke-linejoin="round"/><text transform="translate(67.5,808) scale(0.86,1)" text-anchor="middle" font-family="Liberation Sans" font-size="23" fill="#ffffff">E</text>
<path d="M824,780 L844,800 L824,820 L804,800 Z" fill="#15271b" stroke="#16191f" stroke-width="9" stroke-linejoin="round"/><path d="M824,780 L844,800 L824,820 L804,800 Z" fill="#15271b" stroke="#0fae4c" stroke-width="4.5" stroke-linejoin="round"/><text transform="translate(824,809) scale(0.88,1)" text-anchor="middle" font-family="Liberation Sans" font-size="23" fill="#ffffff"></text>
<path d="M836,780 L856,800 L836,820 L816,800 Z" fill="#15271b" stroke="#16191f" stroke-width="9" stroke-linejoin="round"/><path d="M836,780 L856,800 L836,820 L816,800 Z" fill="#15271b" stroke="#0fae4c" stroke-width="4.5" stroke-linejoin="round"/><text transform="translate(836,809) scale(0.88,1)" text-anchor="middle" font-family="Liberation Sans" font-size="23" fill="#ffffff">R</text>
<path d="M812,780 L828,786 L828,816 L796,816 L796,786 Z" fill="#15271b" stroke="#16191f" stroke-width="9" stroke-linejoin="round"/><path d="M812,780 L828,786 L828,816 L796,816 L796,786 Z" fill="#15271b" stroke="#0fae4c" stroke-width="4.5" stroke-linejoin="round"/><text transform="translate(812,808) scale(0.86,1)" text-anchor="middle" font-family="Liberation Sans" font-size="23" fill="#ffffff">E</text>
<path d="M860,780 L880,800 L860,820 L840,800 Z" fill="#15271b" stroke="#16191f" stroke-width="9" stroke-linejoin="round"/><path d="M860,780 L880,800 L860,820 L840,800 Z" fill="#15271b" stroke="#0fae4c" stroke-width="4.5" stroke-linejoin="round"/><text transform="translate(860,809) scale(0.88,1)" text-anchor="middle" font-family="Liberation Sans" font-size="23" fill="#ffffff">R</text>
<path d="M1436,780 L1456,800 L1436,820 L1416,800 Z" fill="#15271b" stroke="#16191f" stroke-width="9" stroke-linejoin="round"/><path d="M1436,780 L1456,800 L1436,820 L1416,800 Z" fill="#15271b" stroke="#0fae4c" stroke-width="4.5" stroke-linejoin="round"/><text transform="translate(1436,809) scale(0.88,1)" text-anchor="middle" font-family="Liberation Sans" font-size="23" fill="#ffffff">R</text>
<path d="M1580,780 L1596,786 L1596,816 L1564,816 L1564,786 Z" fill="#15271b" stroke="#16191f" stroke-width="9" stroke-linejoin="round"/><path d="M1580,780 L1596,786 L1596,816 L1564,816 L1564,786 Z" fill="#15271b" stroke="#0fae4c" stroke-width="4.5" stroke-linejoin="round"/><text transform="translate(1580,808) scale(0.86,1)" text-anchor="middle" font-family="Liberation Sans" font-size="23" fill="#ffffff">E</text>
<path d="M2156,780 L2176,800 L2156,820 L2136,800 Z" fill="#4a1719" stroke="#16191f" stroke-width="9" stroke-linejoin="round"/><path d="M2156,780 L2176,800 L2156,820 L2136,800 Z" fill="#4a1719" stroke="#f04848" stroke-width="4.5" stroke-linejoin="round"/><text transform="translate(2156,809) scale(0.88,1)" text-anchor="middle" font-family="Liberation Sans" font-size="23" fill="#ffffff">R</text>
<path d="M2492,780 L2508,786 L2508,816 L2476,816 L2476,786 Z" fill="#15271b" stroke="#16191f" stroke-width="9" stroke-linejoin="round"/><path d="M2492,780 L2508,786 L2508,816 L2476,816 L2476,786 Z" fill="#15271b" stroke="#0fae4c" stroke-width="4.5" stroke-linejoin="round"/><text transform="translate(2492,808) scale(0.86,1)" text-anchor="middle" font-family="Liberation Sans" font-size="23" fill="#ffffff">E</text>
</g>
<rect x="15" y="100" width="615" height="33" fill="#22262f" opacity="0.75"/>
<rect x="15" y="134" width="171" height="36" fill="#22262f" opacity="0.75"/>
<rect x="15" y="170" width="173" height="36" fill="#22262f" opacity="0.75"/>
<rect x="15" y="206" width="194.5" height="36" fill="#22262f" opacity="0.75"/>
<text x="26" y="124" font-family="Liberation Sans" font-size="21" fill="#aeb2bf" >Mar 13</text>
<text x="124" y="124" font-family="Liberation Sans" font-size="21" fill="#aeb2bf" >O</text>
<text x="144.5" y="124" font-family="Liberation Sans" font-size="21" fill="#00ac47" >79.53</text>
<text x="228.5" y="124" font-family="Liberation Sans" font-size="21" fill="#aeb2bf" >H</text>
<text x="246" y="124" font-family="Liberation Sans" font-size="21" fill="#00ac47" >82.20</text>
<text x="330" y="124" font-family="Liberation Sans" font-size="21" fill="#aeb2bf" >L</text>
<text x="344.5" y="124" font-family="Liberation Sans" font-size="21" fill="#00ac47" >78.33</text>
<text x="428" y="124" font-family="Liberation Sans" font-size="21" fill="#aeb2bf" >C</text>
<text x="446.5" y="124" font-family="Liberation Sans" font-size="21" fill="#00ac47" >82.06</text>
<text x="530" y="124" font-family="Liberation Sans" font-size="21" fill="#aeb2bf" >Vol</text>
<text x="562" y="124" font-family="Liberation Sans" font-size="21" fill="#00ac47" >2.50M</text>
<text x="26" y="160" font-family="Liberation Sans" font-size="21" fill="#7b387e" >SMA 20</text>
<rect x="111.8" y="150.8" width="2.4" height="2.4" fill="#c8cad2"/>
<text x="127" y="160" font-family="Liberation Sans" font-size="21" fill="#7b387e" >74.21</text>
<text x="26" y="196" font-family="Liberation Sans" font-size="21" fill="#de8634" >SMA 50</text>
<rect x="111.8" y="186.8" width="2.4" height="2.4" fill="#c8cad2"/>
<text x="127" y="196" font-family="Liberation Sans" font-size="21" fill="#de8634" >73.60</text>
<text x="26" y="232" font-family="Liberation Sans" font-size="21" fill="#7f6b3a" >SMA 200</text>
<rect x="124.3" y="222.8" width="2.4" height="2.4" fill="#c8cad2"/>
<text x="138.8" y="232" font-family="Liberation Sans" font-size="21" fill="#7f6b3a" >112.35</text>
<text x="25.5" y="40" font-family="Liberation Serif" font-weight="bold" font-size="41.5" fill="#ffffff" stroke="#ffffff" stroke-width="0.7" letter-spacing="-1.6">f&#305;nv&#305;z</text>
<circle cx="94.2" cy="16" r="3.8" fill="#4ea9f2"/>
<text transform="translate(24,91.5) scale(0.924,1)" font-family="Liberation Sans" font-weight="bold" font-size="52" fill="#8f98b0">SFM</text>
<text x="1392" y="82" font-family="Liberation Sans" font-size="29" fill="#676e80" font-weight="bold" text-anchor="middle">DAILY</text>
<text x="2770" y="38" font-family="Liberation Sans" font-size="26.8" fill="#8f98b0" font-weight="bold" text-anchor="end">Sat MAR 14 2026 5:53 AM ET</text>
<text x="2769" y="82" font-family="Liberation Sans" font-size="29" fill="#00ac47" font-weight="bold" text-anchor="end">+3.22 (4.08%)</text>
<text transform="translate(2707.5,164.2) scale(0.9,1)" font-family="Liberation Sans" font-size="22.5" fill="#8f96aa">180</text>
<text transform="translate(2707.5,272.2) scale(0.9,1)" font-family="Liberation Sans" font-size="22.5" fill="#8f96aa">160</text>
<text transform="translate(2707.5,380.2) scale(0.9,1)" font-family="Liberation Sans" font-size="22.5" fill="#8f96aa">140</text>
<text transform="translate(2707.5,488.2) scale(0.9,1)" font-family="Liberation Sans" font-size="22.5" fill="#8f96aa">120</text>
<text transform="translate(2707.5,594.0) scale(0.9,1)" font-family="Liberation Sans" font-size="22.5" fill="#8f96aa">100</text>
<text transform="translate(2707.5,702.0) scale(0.9,1)" font-family="Liberation Sans" font-size="22.5" fill="#8f96aa">80</text>
<text transform="translate(2707.5,810.2) scale(0.9,1)" font-family="Liberation Sans" font-size="22.5" fill="#8f96aa">60</text>
<rect x="2702" y="671.5" width="60.5" height="24.5" fill="#f2c632"/>
<text transform="translate(2707,692) scale(0.9,1)" font-family="Liberation Sans" font-size="22.5" fill="#22262f">82.06</text>
<text x="66" y="709" font-family="Liberation Sans" font-size="22" fill="#8f96aa" text-anchor="end">20M</text>
<text x="66" y="739" font-family="Liberation Sans" font-size="22" fill="#8f96aa" text-anchor="end">15M</text>
<text x="66" y="769" font-family="Liberation Sans" font-size="22" fill="#8f96aa" text-anchor="end">10M</text>
<text x="66" y="799" font-family="Liberation Sans" font-size="22" fill="#8f96aa" text-anchor="end">5M</text>
<text x="333" y="857" font-family="Liberation Sans" font-size="21" fill="#9aa1b5" text-anchor="middle">Jun</text>
<text x="573" y="857" font-family="Liberation Sans" font-size="21" fill="#9aa1b5" text-anchor="middle">Jul</text>
<text x="837" y="857" font-family="Liberation Sans" font-size="21" fill="#9aa1b5" text-anchor="middle">Aug</text>
<text x="1089" y="857" font-family="Liberation Sans" font-size="21" fill="#9aa1b5" text-anchor="middle">Sep</text>
<text x="1341" y="857" font-family="Liberation Sans" font-size="21" fill="#9aa1b5" text-anchor="middle">Oct</text>
<text x="1617" y="857" font-family="Liberation Sans" font-size="21" fill="#9aa1b5" text-anchor="middle">Nov</text>
<text x="1845" y="857" font-family="Liberation Sans" font-size="21" fill="#9aa1b5" text-anchor="middle">Dec</text>
<text x="2109" y="857" font-family="Liberation Sans" font-size="21" fill="#9aa1b5" text-anchor="middle">2026</text>
<text x="2349" y="857" font-family="Liberation Sans" font-size="21" fill="#9aa1b5" text-anchor="middle">Feb</text>
<text x="2577" y="857" font-family="Liberation Sans" font-size="21" fill="#9aa1b5" text-anchor="middle">Mar</text>
<text x="70" y="857" font-family="Liberation Sans" font-size="21" fill="#9aa1b5" >May</text>
</svg></body></html>
